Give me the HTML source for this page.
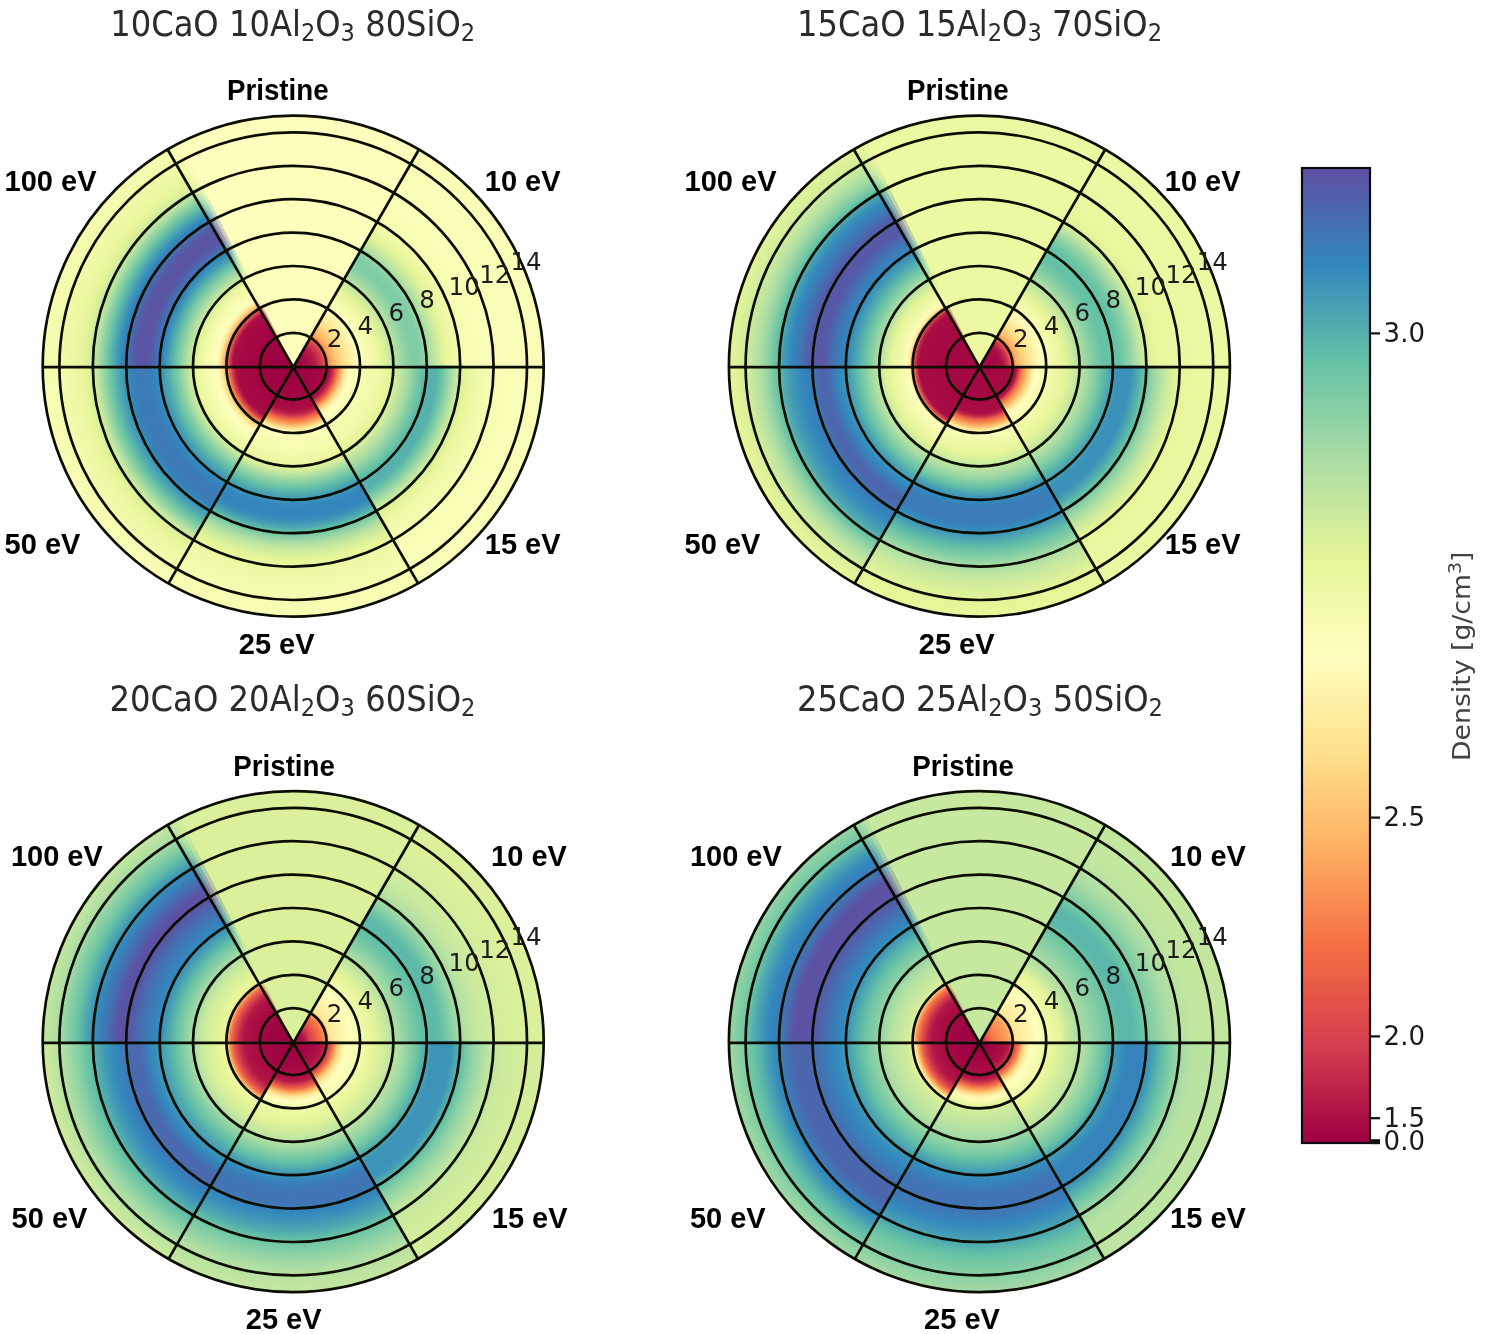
<!DOCTYPE html>
<html><head><meta charset="utf-8"><title>Density polar maps</title>
<style>
html,body{margin:0;padding:0;background:#fff;}
svg{display:block}
text{font-family:"DejaVu Sans","Liberation Sans",sans-serif;}
.tt{font-size:35px;fill:#2b2b2b;}
.rl{font-size:24.5px;fill:#1c1c1c;text-anchor:middle;}
.sl{font-family:"Liberation Sans","DejaVu Sans",sans-serif;font-weight:bold;font-size:29px;fill:#000;}
.ct{font-size:26px;fill:#1a1a1a;}
.cl{font-size:25.6px;fill:#424242;}
</style></head><body>
<svg width="1492" height="1334" viewBox="0 0 1492 1334">
<rect width="1492" height="1334" fill="#fff"/>
<defs>
<radialGradient id="g0p" gradientUnits="userSpaceOnUse" cx="293.2" cy="366.2" r="250.50"><stop offset="0.0000" stop-color="#fefebd"/><stop offset="1.0000" stop-color="#fefebd"/></radialGradient>
<radialGradient id="g0e10" gradientUnits="userSpaceOnUse" cx="293.2" cy="366.2" r="250.50"><stop offset="0.0000" stop-color="#9e0142"/><stop offset="0.0133" stop-color="#9f0242"/><stop offset="0.0267" stop-color="#a10443"/><stop offset="0.0400" stop-color="#a40743"/><stop offset="0.0533" stop-color="#a70b44"/><stop offset="0.0667" stop-color="#ac1045"/><stop offset="0.0800" stop-color="#b21747"/><stop offset="0.0933" stop-color="#bc2349"/><stop offset="0.1067" stop-color="#cc344d"/><stop offset="0.1200" stop-color="#db474d"/><stop offset="0.1333" stop-color="#f46c43"/><stop offset="0.1467" stop-color="#fba15b"/><stop offset="0.1600" stop-color="#fdb769"/><stop offset="0.1733" stop-color="#fdc575"/><stop offset="0.1867" stop-color="#fed380"/><stop offset="0.2000" stop-color="#fedf8a"/><stop offset="0.2133" stop-color="#fee695"/><stop offset="0.2267" stop-color="#feeda1"/><stop offset="0.2400" stop-color="#fff3ac"/><stop offset="0.2533" stop-color="#fffab6"/><stop offset="0.2667" stop-color="#ffffbf"/><stop offset="0.2800" stop-color="#fbfeb9"/><stop offset="0.2933" stop-color="#f8fcb4"/><stop offset="0.3067" stop-color="#f5fbaf"/><stop offset="0.3200" stop-color="#f1f9aa"/><stop offset="0.3333" stop-color="#edf8a3"/><stop offset="0.3467" stop-color="#e8f69c"/><stop offset="0.3600" stop-color="#e0f399"/><stop offset="0.3733" stop-color="#d5ee9c"/><stop offset="0.3867" stop-color="#c9e99e"/><stop offset="0.4000" stop-color="#bde4a0"/><stop offset="0.4133" stop-color="#b0dfa3"/><stop offset="0.4267" stop-color="#a2daa4"/><stop offset="0.4400" stop-color="#96d5a4"/><stop offset="0.4533" stop-color="#8cd1a4"/><stop offset="0.4667" stop-color="#82cda5"/><stop offset="0.4800" stop-color="#7ecba5"/><stop offset="0.4933" stop-color="#7fcca5"/><stop offset="0.5067" stop-color="#82cda5"/><stop offset="0.5200" stop-color="#8cd1a4"/><stop offset="0.5333" stop-color="#9dd8a4"/><stop offset="0.5467" stop-color="#aedea3"/><stop offset="0.5600" stop-color="#bde4a0"/><stop offset="0.5733" stop-color="#cae99e"/><stop offset="0.5867" stop-color="#d5ee9b"/><stop offset="0.6000" stop-color="#e0f399"/><stop offset="0.6133" stop-color="#e8f69b"/><stop offset="0.6267" stop-color="#ecf7a1"/><stop offset="0.6400" stop-color="#eff8a6"/><stop offset="0.6533" stop-color="#f1faaa"/><stop offset="0.6667" stop-color="#f4faad"/><stop offset="0.6800" stop-color="#f6fbb0"/><stop offset="0.6933" stop-color="#f7fcb3"/><stop offset="0.7067" stop-color="#f8fcb4"/><stop offset="0.7200" stop-color="#f8fcb5"/><stop offset="0.7333" stop-color="#f9fdb5"/><stop offset="0.7467" stop-color="#f9fdb6"/><stop offset="0.7600" stop-color="#fafdb7"/><stop offset="1.0000" stop-color="#fafdb7"/></radialGradient>
<radialGradient id="g0e15" gradientUnits="userSpaceOnUse" cx="293.2" cy="366.2" r="250.50"><stop offset="0.0000" stop-color="#9e0142"/><stop offset="0.0267" stop-color="#9e0142"/><stop offset="0.0400" stop-color="#9f0242"/><stop offset="0.0533" stop-color="#9f0242"/><stop offset="0.0667" stop-color="#a00342"/><stop offset="0.0800" stop-color="#a10443"/><stop offset="0.0933" stop-color="#a20543"/><stop offset="0.1067" stop-color="#a30743"/><stop offset="0.1200" stop-color="#a50844"/><stop offset="0.1333" stop-color="#a70b44"/><stop offset="0.1467" stop-color="#a90d45"/><stop offset="0.1600" stop-color="#c9314c"/><stop offset="0.1733" stop-color="#ee6445"/><stop offset="0.1867" stop-color="#fba15b"/><stop offset="0.2000" stop-color="#fed683"/><stop offset="0.2133" stop-color="#fff1a8"/><stop offset="0.2267" stop-color="#ffffbf"/><stop offset="0.2400" stop-color="#fcfeba"/><stop offset="0.2533" stop-color="#f9fdb6"/><stop offset="0.2667" stop-color="#f7fcb2"/><stop offset="0.2800" stop-color="#f5fbb0"/><stop offset="0.2933" stop-color="#f4fbae"/><stop offset="0.3067" stop-color="#f3faad"/><stop offset="0.3200" stop-color="#f2faab"/><stop offset="0.3333" stop-color="#f1f9a9"/><stop offset="0.3467" stop-color="#eff8a6"/><stop offset="0.3600" stop-color="#ecf7a2"/><stop offset="0.3733" stop-color="#e9f69c"/><stop offset="0.3867" stop-color="#e4f498"/><stop offset="0.4000" stop-color="#daf09a"/><stop offset="0.4133" stop-color="#d0ec9d"/><stop offset="0.4267" stop-color="#c4e79f"/><stop offset="0.4400" stop-color="#b8e2a1"/><stop offset="0.4533" stop-color="#abdda4"/><stop offset="0.4667" stop-color="#9cd7a4"/><stop offset="0.4800" stop-color="#8cd1a4"/><stop offset="0.4933" stop-color="#7bcaa5"/><stop offset="0.5067" stop-color="#6dc5a5"/><stop offset="0.5200" stop-color="#60bca8"/><stop offset="0.5333" stop-color="#58b2ac"/><stop offset="0.5467" stop-color="#56b1ac"/><stop offset="0.5600" stop-color="#56b1ac"/><stop offset="0.5733" stop-color="#58b2ab"/><stop offset="0.5867" stop-color="#63bea7"/><stop offset="0.6000" stop-color="#74c7a5"/><stop offset="0.6133" stop-color="#89d0a4"/><stop offset="0.6267" stop-color="#a0d9a4"/><stop offset="0.6400" stop-color="#b4e1a2"/><stop offset="0.6533" stop-color="#c5e89f"/><stop offset="0.6667" stop-color="#d4ee9c"/><stop offset="0.6800" stop-color="#dff299"/><stop offset="0.6933" stop-color="#e7f69a"/><stop offset="0.7067" stop-color="#ebf7a0"/><stop offset="0.7200" stop-color="#eef8a4"/><stop offset="0.7333" stop-color="#f0f9a8"/><stop offset="0.7467" stop-color="#f2faaa"/><stop offset="0.7600" stop-color="#f3faad"/><stop offset="0.7733" stop-color="#f5fbaf"/><stop offset="0.7867" stop-color="#f6fbb1"/><stop offset="0.8000" stop-color="#f7fcb2"/><stop offset="0.8133" stop-color="#f8fcb4"/><stop offset="0.8267" stop-color="#f8fcb5"/><stop offset="0.8400" stop-color="#f9fcb5"/><stop offset="0.8533" stop-color="#f9fdb6"/><stop offset="0.8933" stop-color="#f9fdb6"/><stop offset="0.9067" stop-color="#fafdb7"/><stop offset="1.0000" stop-color="#fafdb7"/></radialGradient>
<radialGradient id="g0e25" gradientUnits="userSpaceOnUse" cx="293.2" cy="366.2" r="250.50"><stop offset="0.0000" stop-color="#9e0142"/><stop offset="0.0400" stop-color="#9e0142"/><stop offset="0.0533" stop-color="#9f0242"/><stop offset="0.0667" stop-color="#9f0242"/><stop offset="0.0800" stop-color="#a00342"/><stop offset="0.0933" stop-color="#a00443"/><stop offset="0.1067" stop-color="#a10543"/><stop offset="0.1200" stop-color="#a20643"/><stop offset="0.1333" stop-color="#a40743"/><stop offset="0.1467" stop-color="#a50944"/><stop offset="0.1600" stop-color="#a70b44"/><stop offset="0.1733" stop-color="#a90d45"/><stop offset="0.1867" stop-color="#b71d48"/><stop offset="0.2000" stop-color="#d53e4f"/><stop offset="0.2133" stop-color="#f46d43"/><stop offset="0.2267" stop-color="#fa9757"/><stop offset="0.2400" stop-color="#fec776"/><stop offset="0.2533" stop-color="#feeda1"/><stop offset="0.2667" stop-color="#ffffbf"/><stop offset="0.2800" stop-color="#fbfdb9"/><stop offset="0.2933" stop-color="#f8fcb5"/><stop offset="0.3067" stop-color="#f7fcb2"/><stop offset="0.3200" stop-color="#f5fbb0"/><stop offset="0.3333" stop-color="#f4fbae"/><stop offset="0.3467" stop-color="#f3faac"/><stop offset="0.3600" stop-color="#f1f9a9"/><stop offset="0.3733" stop-color="#eff9a6"/><stop offset="0.3867" stop-color="#ecf7a1"/><stop offset="0.4000" stop-color="#e6f599"/><stop offset="0.4133" stop-color="#d8ef9b"/><stop offset="0.4267" stop-color="#c4e79f"/><stop offset="0.4400" stop-color="#afdfa3"/><stop offset="0.4533" stop-color="#99d6a4"/><stop offset="0.4667" stop-color="#85cea5"/><stop offset="0.4800" stop-color="#71c6a5"/><stop offset="0.4933" stop-color="#61bca7"/><stop offset="0.5067" stop-color="#55afad"/><stop offset="0.5200" stop-color="#49a2b2"/><stop offset="0.5333" stop-color="#3f97b7"/><stop offset="0.5467" stop-color="#378ebb"/><stop offset="0.5600" stop-color="#3387bc"/><stop offset="0.5733" stop-color="#3485bc"/><stop offset="0.5867" stop-color="#3485bc"/><stop offset="0.6000" stop-color="#3386bc"/><stop offset="0.6133" stop-color="#368dbb"/><stop offset="0.6267" stop-color="#3f97b7"/><stop offset="0.6400" stop-color="#4aa3b2"/><stop offset="0.6533" stop-color="#5ab5ab"/><stop offset="0.6667" stop-color="#6dc5a5"/><stop offset="0.6800" stop-color="#84cea5"/><stop offset="0.6933" stop-color="#9ad6a4"/><stop offset="0.7067" stop-color="#addea4"/><stop offset="0.7200" stop-color="#bce4a1"/><stop offset="0.7333" stop-color="#c9e99e"/><stop offset="0.7467" stop-color="#d4ee9c"/><stop offset="0.7600" stop-color="#ddf29a"/><stop offset="0.7733" stop-color="#e5f598"/><stop offset="0.7867" stop-color="#e9f69c"/><stop offset="0.8000" stop-color="#ebf7a0"/><stop offset="0.8133" stop-color="#edf8a3"/><stop offset="0.8267" stop-color="#eff8a6"/><stop offset="0.8400" stop-color="#f0f9a8"/><stop offset="0.8533" stop-color="#f1faaa"/><stop offset="0.8667" stop-color="#f2faac"/><stop offset="0.8800" stop-color="#f3faad"/><stop offset="0.8933" stop-color="#f4fbae"/><stop offset="0.9067" stop-color="#f5fbaf"/><stop offset="0.9200" stop-color="#f5fbb0"/><stop offset="0.9333" stop-color="#f6fbb1"/><stop offset="0.9467" stop-color="#f6fcb1"/><stop offset="0.9600" stop-color="#f7fcb2"/><stop offset="0.9733" stop-color="#f7fcb2"/><stop offset="0.9867" stop-color="#f7fcb3"/><stop offset="1.0000" stop-color="#f7fcb3"/></radialGradient>
<radialGradient id="g0e50" gradientUnits="userSpaceOnUse" cx="293.2" cy="366.2" r="250.50"><stop offset="0.0000" stop-color="#9e0142"/><stop offset="0.0533" stop-color="#9e0142"/><stop offset="0.0667" stop-color="#9f0242"/><stop offset="0.0933" stop-color="#9f0242"/><stop offset="0.1067" stop-color="#a00342"/><stop offset="0.1200" stop-color="#a00343"/><stop offset="0.1333" stop-color="#a10443"/><stop offset="0.1467" stop-color="#a20543"/><stop offset="0.1600" stop-color="#a30643"/><stop offset="0.1733" stop-color="#a40743"/><stop offset="0.1867" stop-color="#a50844"/><stop offset="0.2000" stop-color="#a60a44"/><stop offset="0.2133" stop-color="#a70b44"/><stop offset="0.2267" stop-color="#a90d45"/><stop offset="0.2400" stop-color="#c9314c"/><stop offset="0.2533" stop-color="#f36b44"/><stop offset="0.2667" stop-color="#fdaf62"/><stop offset="0.2800" stop-color="#fee08b"/><stop offset="0.2933" stop-color="#fff3ab"/><stop offset="0.3067" stop-color="#ffffbf"/><stop offset="0.3200" stop-color="#fafdb7"/><stop offset="0.3333" stop-color="#f7fcb2"/><stop offset="0.3467" stop-color="#f4fbae"/><stop offset="0.3600" stop-color="#f1faaa"/><stop offset="0.3733" stop-color="#edf8a4"/><stop offset="0.3867" stop-color="#e7f69a"/><stop offset="0.4000" stop-color="#d7ef9b"/><stop offset="0.4133" stop-color="#c5e89f"/><stop offset="0.4267" stop-color="#b3e0a2"/><stop offset="0.4400" stop-color="#9ed8a4"/><stop offset="0.4533" stop-color="#88cfa4"/><stop offset="0.4667" stop-color="#75c8a5"/><stop offset="0.4800" stop-color="#63bfa6"/><stop offset="0.4933" stop-color="#56b1ac"/><stop offset="0.5067" stop-color="#4ca5b1"/><stop offset="0.5200" stop-color="#429ab6"/><stop offset="0.5333" stop-color="#3a91b9"/><stop offset="0.5467" stop-color="#3288bd"/><stop offset="0.5600" stop-color="#3881ba"/><stop offset="0.5733" stop-color="#3b7db8"/><stop offset="0.5867" stop-color="#3c7bb7"/><stop offset="0.6000" stop-color="#3d7ab6"/><stop offset="0.6133" stop-color="#3d7ab6"/><stop offset="0.6267" stop-color="#3c7cb7"/><stop offset="0.6400" stop-color="#397fb9"/><stop offset="0.6533" stop-color="#3387bc"/><stop offset="0.6667" stop-color="#3a91b9"/><stop offset="0.6800" stop-color="#429ab5"/><stop offset="0.6933" stop-color="#4ca5b1"/><stop offset="0.7067" stop-color="#56b1ac"/><stop offset="0.7200" stop-color="#63bfa6"/><stop offset="0.7333" stop-color="#75c8a5"/><stop offset="0.7467" stop-color="#89d0a4"/><stop offset="0.7600" stop-color="#9fd8a4"/><stop offset="0.7733" stop-color="#b6e1a2"/><stop offset="0.7867" stop-color="#c8e99e"/><stop offset="0.8000" stop-color="#d4ee9c"/><stop offset="0.8133" stop-color="#ddf29a"/><stop offset="0.8267" stop-color="#e6f598"/><stop offset="0.8400" stop-color="#e9f69d"/><stop offset="0.8533" stop-color="#ebf7a1"/><stop offset="0.8667" stop-color="#eef8a4"/><stop offset="0.8800" stop-color="#eff9a6"/><stop offset="0.8933" stop-color="#f1f9a9"/><stop offset="0.9067" stop-color="#f2faab"/><stop offset="0.9200" stop-color="#f3faad"/><stop offset="0.9333" stop-color="#f4fbae"/><stop offset="0.9467" stop-color="#f5fbb0"/><stop offset="0.9600" stop-color="#f6fbb1"/><stop offset="0.9733" stop-color="#f7fcb2"/><stop offset="0.9867" stop-color="#f7fcb3"/><stop offset="1.0000" stop-color="#f7fcb3"/></radialGradient>
<radialGradient id="g0e100" gradientUnits="userSpaceOnUse" cx="293.2" cy="366.2" r="250.50"><stop offset="0.0000" stop-color="#9e0142"/><stop offset="0.0533" stop-color="#9e0142"/><stop offset="0.0667" stop-color="#9e0242"/><stop offset="0.0800" stop-color="#9f0242"/><stop offset="0.0933" stop-color="#9f0242"/><stop offset="0.1067" stop-color="#9f0342"/><stop offset="0.1200" stop-color="#a00342"/><stop offset="0.1333" stop-color="#a00443"/><stop offset="0.1467" stop-color="#a10443"/><stop offset="0.1600" stop-color="#a20543"/><stop offset="0.1733" stop-color="#a30643"/><stop offset="0.1867" stop-color="#a40743"/><stop offset="0.2000" stop-color="#a50944"/><stop offset="0.2133" stop-color="#a60a44"/><stop offset="0.2267" stop-color="#a70c44"/><stop offset="0.2400" stop-color="#a90d45"/><stop offset="0.2533" stop-color="#d33c4f"/><stop offset="0.2667" stop-color="#f8884f"/><stop offset="0.2800" stop-color="#fdc675"/><stop offset="0.2933" stop-color="#feeda1"/><stop offset="0.3067" stop-color="#ffffbf"/><stop offset="0.3200" stop-color="#fafdb7"/><stop offset="0.3333" stop-color="#f7fcb2"/><stop offset="0.3467" stop-color="#f4fbae"/><stop offset="0.3600" stop-color="#f0f9a8"/><stop offset="0.3733" stop-color="#eaf79f"/><stop offset="0.3867" stop-color="#dff299"/><stop offset="0.4000" stop-color="#ceeb9d"/><stop offset="0.4133" stop-color="#bde4a0"/><stop offset="0.4267" stop-color="#acdda4"/><stop offset="0.4400" stop-color="#97d5a4"/><stop offset="0.4533" stop-color="#82cda5"/><stop offset="0.4667" stop-color="#6cc4a5"/><stop offset="0.4800" stop-color="#5bb5aa"/><stop offset="0.4933" stop-color="#4ca5b1"/><stop offset="0.5067" stop-color="#3f96b7"/><stop offset="0.5200" stop-color="#3389bd"/><stop offset="0.5333" stop-color="#3b7db8"/><stop offset="0.5467" stop-color="#4570b2"/><stop offset="0.5600" stop-color="#4f63ab"/><stop offset="0.5733" stop-color="#5659a7"/><stop offset="0.5867" stop-color="#5a55a5"/><stop offset="0.6133" stop-color="#5a55a5"/><stop offset="0.6267" stop-color="#5956a5"/><stop offset="0.6400" stop-color="#525ea9"/><stop offset="0.6533" stop-color="#496aaf"/><stop offset="0.6667" stop-color="#3f77b5"/><stop offset="0.6800" stop-color="#3683ba"/><stop offset="0.6933" stop-color="#3990ba"/><stop offset="0.7067" stop-color="#459eb4"/><stop offset="0.7200" stop-color="#53adae"/><stop offset="0.7333" stop-color="#62bea7"/><stop offset="0.7467" stop-color="#77c9a5"/><stop offset="0.7600" stop-color="#8dd1a4"/><stop offset="0.7733" stop-color="#a5dba4"/><stop offset="0.7867" stop-color="#b9e3a1"/><stop offset="0.8000" stop-color="#c8e99e"/><stop offset="0.8133" stop-color="#d4ee9c"/><stop offset="0.8267" stop-color="#def29a"/><stop offset="0.8400" stop-color="#e6f598"/><stop offset="0.8533" stop-color="#e9f69d"/><stop offset="0.8667" stop-color="#ebf7a0"/><stop offset="0.8800" stop-color="#edf8a2"/><stop offset="0.8933" stop-color="#eef8a5"/><stop offset="0.9067" stop-color="#f0f9a7"/><stop offset="0.9200" stop-color="#f1f9a9"/><stop offset="0.9333" stop-color="#f2faab"/><stop offset="0.9467" stop-color="#f3faac"/><stop offset="0.9600" stop-color="#f4fbae"/><stop offset="0.9733" stop-color="#f4fbaf"/><stop offset="0.9867" stop-color="#f5fbaf"/><stop offset="1.0000" stop-color="#f5fbaf"/></radialGradient>
<radialGradient id="g1p" gradientUnits="userSpaceOnUse" cx="979.4" cy="366.2" r="250.50"><stop offset="0.0000" stop-color="#ecf8a2"/><stop offset="1.0000" stop-color="#ecf8a2"/></radialGradient>
<radialGradient id="g1e10" gradientUnits="userSpaceOnUse" cx="979.4" cy="366.2" r="250.50"><stop offset="0.0000" stop-color="#a40743"/><stop offset="0.0133" stop-color="#a40743"/><stop offset="0.0267" stop-color="#a40843"/><stop offset="0.0400" stop-color="#a50844"/><stop offset="0.0533" stop-color="#a50944"/><stop offset="0.0667" stop-color="#a70b44"/><stop offset="0.0800" stop-color="#a80c44"/><stop offset="0.0933" stop-color="#ad1145"/><stop offset="0.1067" stop-color="#c1274a"/><stop offset="0.1200" stop-color="#da454d"/><stop offset="0.1333" stop-color="#f57647"/><stop offset="0.1467" stop-color="#fdae61"/><stop offset="0.1600" stop-color="#fdc171"/><stop offset="0.1733" stop-color="#fecf7d"/><stop offset="0.1867" stop-color="#fedd88"/><stop offset="0.2000" stop-color="#fee594"/><stop offset="0.2133" stop-color="#feec9f"/><stop offset="0.2267" stop-color="#fff3ab"/><stop offset="0.2400" stop-color="#fff9b6"/><stop offset="0.2533" stop-color="#ffffbe"/><stop offset="0.2667" stop-color="#fafdb7"/><stop offset="0.2800" stop-color="#f6fbb1"/><stop offset="0.2933" stop-color="#f2faab"/><stop offset="0.3067" stop-color="#eff9a6"/><stop offset="0.3200" stop-color="#ebf7a0"/><stop offset="0.3333" stop-color="#e7f59a"/><stop offset="0.3467" stop-color="#dff299"/><stop offset="0.3600" stop-color="#d4ee9c"/><stop offset="0.3733" stop-color="#c9e99e"/><stop offset="0.3867" stop-color="#bce4a0"/><stop offset="0.4000" stop-color="#b1dfa3"/><stop offset="0.4133" stop-color="#a5dba4"/><stop offset="0.4267" stop-color="#99d6a4"/><stop offset="0.4400" stop-color="#8ed1a4"/><stop offset="0.4533" stop-color="#83cda5"/><stop offset="0.4667" stop-color="#79c9a5"/><stop offset="0.4800" stop-color="#6fc5a5"/><stop offset="0.4933" stop-color="#67c2a5"/><stop offset="0.5067" stop-color="#66c2a5"/><stop offset="0.5467" stop-color="#66c2a5"/><stop offset="0.5600" stop-color="#6ac4a5"/><stop offset="0.5733" stop-color="#74c8a5"/><stop offset="0.5867" stop-color="#82cda5"/><stop offset="0.6000" stop-color="#8fd2a4"/><stop offset="0.6133" stop-color="#9fd8a4"/><stop offset="0.6267" stop-color="#b0dfa3"/><stop offset="0.6400" stop-color="#bee5a0"/><stop offset="0.6533" stop-color="#cceb9d"/><stop offset="0.6667" stop-color="#d7ef9b"/><stop offset="0.6800" stop-color="#def29a"/><stop offset="0.6933" stop-color="#e4f498"/><stop offset="0.7067" stop-color="#e7f69a"/><stop offset="0.7200" stop-color="#e9f69c"/><stop offset="0.7333" stop-color="#eaf69e"/><stop offset="0.7467" stop-color="#eaf79f"/><stop offset="0.7600" stop-color="#ebf7a0"/><stop offset="0.7733" stop-color="#ebf7a0"/><stop offset="0.7867" stop-color="#ecf7a1"/><stop offset="0.8000" stop-color="#ecf7a1"/><stop offset="0.8133" stop-color="#ecf7a2"/><stop offset="0.8267" stop-color="#ecf7a2"/><stop offset="0.8400" stop-color="#ecf8a2"/><stop offset="1.0000" stop-color="#ecf8a2"/></radialGradient>
<radialGradient id="g1e15" gradientUnits="userSpaceOnUse" cx="979.4" cy="366.2" r="250.50"><stop offset="0.0000" stop-color="#a40743"/><stop offset="0.0400" stop-color="#a40743"/><stop offset="0.0533" stop-color="#a40843"/><stop offset="0.0667" stop-color="#a40843"/><stop offset="0.0800" stop-color="#a50844"/><stop offset="0.0933" stop-color="#a50944"/><stop offset="0.1067" stop-color="#a60a44"/><stop offset="0.1200" stop-color="#a70b44"/><stop offset="0.1333" stop-color="#a80c44"/><stop offset="0.1467" stop-color="#a90d45"/><stop offset="0.1600" stop-color="#e04e4b"/><stop offset="0.1733" stop-color="#f7854e"/><stop offset="0.1867" stop-color="#fdae61"/><stop offset="0.2000" stop-color="#fed783"/><stop offset="0.2133" stop-color="#fff0a6"/><stop offset="0.2267" stop-color="#ffffbf"/><stop offset="0.2400" stop-color="#fafdb8"/><stop offset="0.2533" stop-color="#f7fcb2"/><stop offset="0.2667" stop-color="#f4fbae"/><stop offset="0.2800" stop-color="#f2faab"/><stop offset="0.2933" stop-color="#f0f9a7"/><stop offset="0.3067" stop-color="#eef8a4"/><stop offset="0.3200" stop-color="#ebf7a0"/><stop offset="0.3333" stop-color="#e8f69b"/><stop offset="0.3467" stop-color="#e3f499"/><stop offset="0.3600" stop-color="#daf09a"/><stop offset="0.3733" stop-color="#d1ec9c"/><stop offset="0.3867" stop-color="#c7e89e"/><stop offset="0.4000" stop-color="#bde4a0"/><stop offset="0.4133" stop-color="#b3e0a2"/><stop offset="0.4267" stop-color="#a8dca4"/><stop offset="0.4400" stop-color="#9cd7a4"/><stop offset="0.4533" stop-color="#8fd2a4"/><stop offset="0.4667" stop-color="#81cda5"/><stop offset="0.4800" stop-color="#70c6a5"/><stop offset="0.4933" stop-color="#61bca7"/><stop offset="0.5067" stop-color="#57b1ac"/><stop offset="0.5200" stop-color="#4ea8b0"/><stop offset="0.5333" stop-color="#479fb3"/><stop offset="0.5467" stop-color="#3e96b7"/><stop offset="0.5600" stop-color="#3a91b9"/><stop offset="0.5867" stop-color="#3a91b9"/><stop offset="0.6000" stop-color="#3b92b9"/><stop offset="0.6133" stop-color="#429ab6"/><stop offset="0.6267" stop-color="#4ca5b1"/><stop offset="0.6400" stop-color="#57b1ac"/><stop offset="0.6533" stop-color="#63bfa6"/><stop offset="0.6667" stop-color="#74c7a5"/><stop offset="0.6800" stop-color="#85cea5"/><stop offset="0.6933" stop-color="#95d5a4"/><stop offset="0.7067" stop-color="#a5dba4"/><stop offset="0.7200" stop-color="#b2e0a2"/><stop offset="0.7333" stop-color="#bee5a0"/><stop offset="0.7467" stop-color="#c9e99e"/><stop offset="0.7600" stop-color="#d2ed9c"/><stop offset="0.7733" stop-color="#daf09a"/><stop offset="0.7867" stop-color="#e1f399"/><stop offset="0.8000" stop-color="#e6f598"/><stop offset="0.8133" stop-color="#e7f69a"/><stop offset="0.8267" stop-color="#e9f69c"/><stop offset="0.8400" stop-color="#eaf69e"/><stop offset="0.8533" stop-color="#eaf79f"/><stop offset="0.8667" stop-color="#ebf7a0"/><stop offset="0.8933" stop-color="#ebf7a0"/><stop offset="0.9067" stop-color="#ecf7a1"/><stop offset="0.9467" stop-color="#ecf7a1"/><stop offset="0.9600" stop-color="#ecf7a2"/><stop offset="0.9867" stop-color="#ecf7a2"/><stop offset="1.0000" stop-color="#ecf8a2"/></radialGradient>
<radialGradient id="g1e25" gradientUnits="userSpaceOnUse" cx="979.4" cy="366.2" r="250.50"><stop offset="0.0000" stop-color="#a40743"/><stop offset="0.0533" stop-color="#a40743"/><stop offset="0.0667" stop-color="#a40843"/><stop offset="0.0800" stop-color="#a40843"/><stop offset="0.0933" stop-color="#a40844"/><stop offset="0.1067" stop-color="#a50844"/><stop offset="0.1200" stop-color="#a50944"/><stop offset="0.1333" stop-color="#a60a44"/><stop offset="0.1467" stop-color="#a60a44"/><stop offset="0.1600" stop-color="#a70b44"/><stop offset="0.1733" stop-color="#a80c44"/><stop offset="0.1867" stop-color="#a90d45"/><stop offset="0.2000" stop-color="#c1284a"/><stop offset="0.2133" stop-color="#ed6346"/><stop offset="0.2267" stop-color="#f88d52"/><stop offset="0.2400" stop-color="#fdb96a"/><stop offset="0.2533" stop-color="#fee695"/><stop offset="0.2667" stop-color="#ffffbf"/><stop offset="0.2800" stop-color="#f8fcb5"/><stop offset="0.2933" stop-color="#f4faad"/><stop offset="0.3067" stop-color="#f0f9a8"/><stop offset="0.3200" stop-color="#eef8a4"/><stop offset="0.3333" stop-color="#ebf7a0"/><stop offset="0.3467" stop-color="#e8f69b"/><stop offset="0.3600" stop-color="#e1f399"/><stop offset="0.3733" stop-color="#d7ef9b"/><stop offset="0.3867" stop-color="#cdeb9d"/><stop offset="0.4000" stop-color="#c3e79f"/><stop offset="0.4133" stop-color="#b8e2a1"/><stop offset="0.4267" stop-color="#acdda4"/><stop offset="0.4400" stop-color="#9ed8a4"/><stop offset="0.4533" stop-color="#8ed2a4"/><stop offset="0.4667" stop-color="#7ccba5"/><stop offset="0.4800" stop-color="#6ac4a5"/><stop offset="0.4933" stop-color="#5cb6aa"/><stop offset="0.5067" stop-color="#4ea7b0"/><stop offset="0.5200" stop-color="#4199b6"/><stop offset="0.5333" stop-color="#378ebb"/><stop offset="0.5467" stop-color="#3486bc"/><stop offset="0.5600" stop-color="#397fb9"/><stop offset="0.5733" stop-color="#3b7db8"/><stop offset="0.6133" stop-color="#3b7db8"/><stop offset="0.6267" stop-color="#3a7db8"/><stop offset="0.6400" stop-color="#3683ba"/><stop offset="0.6533" stop-color="#358bbc"/><stop offset="0.6667" stop-color="#3c94b8"/><stop offset="0.6800" stop-color="#449db5"/><stop offset="0.6933" stop-color="#4ea7b0"/><stop offset="0.7067" stop-color="#57b1ac"/><stop offset="0.7200" stop-color="#60bba8"/><stop offset="0.7333" stop-color="#6ac3a5"/><stop offset="0.7467" stop-color="#75c8a5"/><stop offset="0.7600" stop-color="#82cda5"/><stop offset="0.7733" stop-color="#90d2a4"/><stop offset="0.7867" stop-color="#9ed8a4"/><stop offset="0.8000" stop-color="#abdda4"/><stop offset="0.8133" stop-color="#b4e1a2"/><stop offset="0.8267" stop-color="#bce4a1"/><stop offset="0.8400" stop-color="#c3e79f"/><stop offset="0.8533" stop-color="#c9e99e"/><stop offset="0.8667" stop-color="#ceeb9d"/><stop offset="0.8800" stop-color="#d3ed9c"/><stop offset="0.8933" stop-color="#d8ef9b"/><stop offset="0.9067" stop-color="#dcf19a"/><stop offset="0.9200" stop-color="#e0f399"/><stop offset="0.9333" stop-color="#e4f499"/><stop offset="0.9467" stop-color="#e6f598"/><stop offset="0.9600" stop-color="#e7f599"/><stop offset="0.9733" stop-color="#e8f69a"/><stop offset="0.9867" stop-color="#e8f69b"/><stop offset="1.0000" stop-color="#e8f69c"/></radialGradient>
<radialGradient id="g1e50" gradientUnits="userSpaceOnUse" cx="979.4" cy="366.2" r="250.50"><stop offset="0.0000" stop-color="#a40743"/><stop offset="0.0800" stop-color="#a40743"/><stop offset="0.0933" stop-color="#a40843"/><stop offset="0.1067" stop-color="#a40843"/><stop offset="0.1200" stop-color="#a40844"/><stop offset="0.1333" stop-color="#a50844"/><stop offset="0.1467" stop-color="#a50944"/><stop offset="0.1600" stop-color="#a50944"/><stop offset="0.1733" stop-color="#a60a44"/><stop offset="0.1867" stop-color="#a60a44"/><stop offset="0.2000" stop-color="#a70b44"/><stop offset="0.2133" stop-color="#a70c44"/><stop offset="0.2267" stop-color="#a80c44"/><stop offset="0.2400" stop-color="#a90d45"/><stop offset="0.2533" stop-color="#db474d"/><stop offset="0.2667" stop-color="#fdb264"/><stop offset="0.2800" stop-color="#ffffbf"/><stop offset="0.2933" stop-color="#f8fcb4"/><stop offset="0.3067" stop-color="#f4fbae"/><stop offset="0.3200" stop-color="#f1f9a9"/><stop offset="0.3333" stop-color="#eff8a5"/><stop offset="0.3467" stop-color="#ebf7a0"/><stop offset="0.3600" stop-color="#e6f599"/><stop offset="0.3733" stop-color="#dbf19a"/><stop offset="0.3867" stop-color="#cfec9d"/><stop offset="0.4000" stop-color="#c3e79f"/><stop offset="0.4133" stop-color="#b6e1a2"/><stop offset="0.4267" stop-color="#a8dca4"/><stop offset="0.4400" stop-color="#98d6a4"/><stop offset="0.4533" stop-color="#88cfa4"/><stop offset="0.4667" stop-color="#78c9a5"/><stop offset="0.4800" stop-color="#68c3a5"/><stop offset="0.4933" stop-color="#5cb7aa"/><stop offset="0.5067" stop-color="#51abaf"/><stop offset="0.5200" stop-color="#47a0b3"/><stop offset="0.5333" stop-color="#3f96b7"/><stop offset="0.5467" stop-color="#398fba"/><stop offset="0.5600" stop-color="#3389bd"/><stop offset="0.5733" stop-color="#3881b9"/><stop offset="0.5867" stop-color="#4076b4"/><stop offset="0.6000" stop-color="#476cb0"/><stop offset="0.6133" stop-color="#4c66ad"/><stop offset="0.6267" stop-color="#4c66ad"/><stop offset="0.6400" stop-color="#4b67ae"/><stop offset="0.6533" stop-color="#4470b2"/><stop offset="0.6667" stop-color="#3f77b5"/><stop offset="0.6800" stop-color="#3b7db8"/><stop offset="0.6933" stop-color="#3682ba"/><stop offset="0.7067" stop-color="#3387bd"/><stop offset="0.7200" stop-color="#358cbc"/><stop offset="0.7333" stop-color="#3a91b9"/><stop offset="0.7467" stop-color="#3f97b7"/><stop offset="0.7600" stop-color="#459db4"/><stop offset="0.7733" stop-color="#4ca5b1"/><stop offset="0.7867" stop-color="#55afad"/><stop offset="0.8000" stop-color="#60bca8"/><stop offset="0.8133" stop-color="#6ec5a5"/><stop offset="0.8267" stop-color="#7ecba5"/><stop offset="0.8400" stop-color="#8ed2a4"/><stop offset="0.8533" stop-color="#9dd8a4"/><stop offset="0.8667" stop-color="#aadda4"/><stop offset="0.8800" stop-color="#b5e1a2"/><stop offset="0.8933" stop-color="#bfe5a0"/><stop offset="0.9067" stop-color="#c6e89e"/><stop offset="0.9200" stop-color="#ceeb9d"/><stop offset="0.9333" stop-color="#d4ee9c"/><stop offset="0.9467" stop-color="#daf09a"/><stop offset="0.9600" stop-color="#def29a"/><stop offset="0.9733" stop-color="#e2f399"/><stop offset="0.9867" stop-color="#e4f498"/><stop offset="1.0000" stop-color="#e6f598"/></radialGradient>
<radialGradient id="g1e100" gradientUnits="userSpaceOnUse" cx="979.4" cy="366.2" r="250.50"><stop offset="0.0000" stop-color="#a40743"/><stop offset="0.0800" stop-color="#a40743"/><stop offset="0.0933" stop-color="#a40843"/><stop offset="0.1200" stop-color="#a40843"/><stop offset="0.1333" stop-color="#a50844"/><stop offset="0.1467" stop-color="#a50944"/><stop offset="0.1600" stop-color="#a50944"/><stop offset="0.1733" stop-color="#a60944"/><stop offset="0.1867" stop-color="#a60a44"/><stop offset="0.2000" stop-color="#a70b44"/><stop offset="0.2133" stop-color="#a70b44"/><stop offset="0.2267" stop-color="#a80c44"/><stop offset="0.2400" stop-color="#a90d45"/><stop offset="0.2533" stop-color="#c0274a"/><stop offset="0.2667" stop-color="#f88e52"/><stop offset="0.2800" stop-color="#feeea2"/><stop offset="0.2933" stop-color="#fafdb8"/><stop offset="0.3067" stop-color="#f4faad"/><stop offset="0.3200" stop-color="#f0f9a7"/><stop offset="0.3333" stop-color="#ecf8a2"/><stop offset="0.3467" stop-color="#e9f69c"/><stop offset="0.3600" stop-color="#dff299"/><stop offset="0.3733" stop-color="#d0ec9c"/><stop offset="0.3867" stop-color="#c0e6a0"/><stop offset="0.4000" stop-color="#b1dfa3"/><stop offset="0.4133" stop-color="#a0d9a4"/><stop offset="0.4267" stop-color="#8ed2a4"/><stop offset="0.4400" stop-color="#7dcba5"/><stop offset="0.4533" stop-color="#6dc5a5"/><stop offset="0.4667" stop-color="#60bba8"/><stop offset="0.4800" stop-color="#55afad"/><stop offset="0.4933" stop-color="#4ba4b1"/><stop offset="0.5067" stop-color="#429ab6"/><stop offset="0.5200" stop-color="#3990ba"/><stop offset="0.5333" stop-color="#3288bd"/><stop offset="0.5467" stop-color="#3782ba"/><stop offset="0.5600" stop-color="#3b7db8"/><stop offset="0.5733" stop-color="#3f77b5"/><stop offset="0.5867" stop-color="#466fb1"/><stop offset="0.6000" stop-color="#4c66ad"/><stop offset="0.6133" stop-color="#535da9"/><stop offset="0.6267" stop-color="#5758a6"/><stop offset="0.6667" stop-color="#5758a6"/><stop offset="0.6800" stop-color="#535da9"/><stop offset="0.6933" stop-color="#4c66ad"/><stop offset="0.7067" stop-color="#466eb1"/><stop offset="0.7200" stop-color="#3f77b5"/><stop offset="0.7333" stop-color="#3a7eb8"/><stop offset="0.7467" stop-color="#3584bb"/><stop offset="0.7600" stop-color="#368cbb"/><stop offset="0.7733" stop-color="#3d95b8"/><stop offset="0.7867" stop-color="#479fb3"/><stop offset="0.8000" stop-color="#56b0ad"/><stop offset="0.8133" stop-color="#66c2a5"/><stop offset="0.8267" stop-color="#78c9a5"/><stop offset="0.8400" stop-color="#88cfa5"/><stop offset="0.8533" stop-color="#96d5a4"/><stop offset="0.8667" stop-color="#a4daa4"/><stop offset="0.8800" stop-color="#afdfa3"/><stop offset="0.8933" stop-color="#b9e3a1"/><stop offset="0.9067" stop-color="#c0e6a0"/><stop offset="0.9200" stop-color="#c8e99e"/><stop offset="0.9333" stop-color="#ceeb9d"/><stop offset="0.9467" stop-color="#d4ee9c"/><stop offset="0.9600" stop-color="#d8ef9b"/><stop offset="0.9733" stop-color="#dcf19a"/><stop offset="0.9867" stop-color="#def29a"/><stop offset="1.0000" stop-color="#e0f399"/></radialGradient>
<radialGradient id="g2p" gradientUnits="userSpaceOnUse" cx="293.2" cy="1041.6" r="250.50"><stop offset="0.0000" stop-color="#daf09a"/><stop offset="1.0000" stop-color="#daf09a"/></radialGradient>
<radialGradient id="g2e10" gradientUnits="userSpaceOnUse" cx="293.2" cy="1041.6" r="250.50"><stop offset="0.0000" stop-color="#9e0142"/><stop offset="0.0133" stop-color="#a00443"/><stop offset="0.0267" stop-color="#a60a44"/><stop offset="0.0400" stop-color="#ae1346"/><stop offset="0.0533" stop-color="#bf264a"/><stop offset="0.0667" stop-color="#d53e4f"/><stop offset="0.0800" stop-color="#e04f4b"/><stop offset="0.0933" stop-color="#eb5f47"/><stop offset="0.1067" stop-color="#f36c43"/><stop offset="0.1200" stop-color="#f7804c"/><stop offset="0.1333" stop-color="#fdb264"/><stop offset="0.1467" stop-color="#fee696"/><stop offset="0.1600" stop-color="#feeb9e"/><stop offset="0.1733" stop-color="#feeea2"/><stop offset="0.1867" stop-color="#fff1a8"/><stop offset="0.2000" stop-color="#fff5ae"/><stop offset="0.2133" stop-color="#fff9b4"/><stop offset="0.2267" stop-color="#fffdbb"/><stop offset="0.2400" stop-color="#fdfebc"/><stop offset="0.2533" stop-color="#f7fcb3"/><stop offset="0.2667" stop-color="#f2faac"/><stop offset="0.2800" stop-color="#eff9a6"/><stop offset="0.2933" stop-color="#ecf7a1"/><stop offset="0.3067" stop-color="#e9f69d"/><stop offset="0.3200" stop-color="#e6f598"/><stop offset="0.3333" stop-color="#def29a"/><stop offset="0.3467" stop-color="#d7ef9b"/><stop offset="0.3600" stop-color="#ceeb9d"/><stop offset="0.3733" stop-color="#c5e89f"/><stop offset="0.3867" stop-color="#bbe3a1"/><stop offset="0.4000" stop-color="#b1dfa3"/><stop offset="0.4133" stop-color="#a7dca4"/><stop offset="0.4267" stop-color="#9dd8a4"/><stop offset="0.4400" stop-color="#93d4a4"/><stop offset="0.4533" stop-color="#8ad0a4"/><stop offset="0.4667" stop-color="#80cca5"/><stop offset="0.4800" stop-color="#76c8a5"/><stop offset="0.4933" stop-color="#6dc5a5"/><stop offset="0.5067" stop-color="#66c2a5"/><stop offset="0.5200" stop-color="#62bda7"/><stop offset="0.5333" stop-color="#5fbaa8"/><stop offset="0.5467" stop-color="#5eb9a9"/><stop offset="0.5733" stop-color="#5eb9a9"/><stop offset="0.5867" stop-color="#62bda7"/><stop offset="0.6000" stop-color="#6bc4a5"/><stop offset="0.6133" stop-color="#77c9a5"/><stop offset="0.6267" stop-color="#84cea5"/><stop offset="0.6400" stop-color="#91d3a4"/><stop offset="0.6533" stop-color="#9dd8a4"/><stop offset="0.6667" stop-color="#a7dca4"/><stop offset="0.6800" stop-color="#b0dfa3"/><stop offset="0.6933" stop-color="#b7e2a2"/><stop offset="0.7067" stop-color="#bde4a0"/><stop offset="0.7200" stop-color="#c1e6a0"/><stop offset="0.7333" stop-color="#c5e79f"/><stop offset="0.7467" stop-color="#c8e99e"/><stop offset="0.7600" stop-color="#cbea9e"/><stop offset="0.7733" stop-color="#cdeb9d"/><stop offset="0.7867" stop-color="#d0ec9d"/><stop offset="0.8000" stop-color="#d1ed9c"/><stop offset="0.8133" stop-color="#d3ed9c"/><stop offset="0.8267" stop-color="#d4ee9c"/><stop offset="0.8400" stop-color="#d6ee9b"/><stop offset="0.8533" stop-color="#d7ef9b"/><stop offset="0.8667" stop-color="#d8ef9b"/><stop offset="0.8800" stop-color="#d9f09b"/><stop offset="0.8933" stop-color="#daf09a"/><stop offset="1.0000" stop-color="#daf09a"/></radialGradient>
<radialGradient id="g2e15" gradientUnits="userSpaceOnUse" cx="293.2" cy="1041.6" r="250.50"><stop offset="0.0000" stop-color="#9e0142"/><stop offset="0.0133" stop-color="#9e0142"/><stop offset="0.0267" stop-color="#9f0242"/><stop offset="0.0400" stop-color="#a00342"/><stop offset="0.0533" stop-color="#a20543"/><stop offset="0.0667" stop-color="#a40743"/><stop offset="0.0800" stop-color="#a60a44"/><stop offset="0.0933" stop-color="#aa0e45"/><stop offset="0.1067" stop-color="#ad1246"/><stop offset="0.1200" stop-color="#b61b48"/><stop offset="0.1333" stop-color="#c9304c"/><stop offset="0.1467" stop-color="#df4d4b"/><stop offset="0.1600" stop-color="#f67d4a"/><stop offset="0.1733" stop-color="#fdb96a"/><stop offset="0.1867" stop-color="#fee08b"/><stop offset="0.2000" stop-color="#fff3ab"/><stop offset="0.2133" stop-color="#ffffbf"/><stop offset="0.2267" stop-color="#fcfeba"/><stop offset="0.2400" stop-color="#f9fdb6"/><stop offset="0.2533" stop-color="#f7fcb2"/><stop offset="0.2667" stop-color="#f3faad"/><stop offset="0.2800" stop-color="#f0f9a8"/><stop offset="0.2933" stop-color="#ecf8a2"/><stop offset="0.3067" stop-color="#e9f69d"/><stop offset="0.3200" stop-color="#e6f598"/><stop offset="0.3333" stop-color="#e0f399"/><stop offset="0.3467" stop-color="#daf09a"/><stop offset="0.3600" stop-color="#d4ee9c"/><stop offset="0.3733" stop-color="#cdeb9d"/><stop offset="0.3867" stop-color="#c5e89f"/><stop offset="0.4000" stop-color="#bde4a0"/><stop offset="0.4133" stop-color="#b4e1a2"/><stop offset="0.4267" stop-color="#abdda4"/><stop offset="0.4400" stop-color="#a1d9a4"/><stop offset="0.4533" stop-color="#95d5a4"/><stop offset="0.4667" stop-color="#89d0a4"/><stop offset="0.4800" stop-color="#7bcaa5"/><stop offset="0.4933" stop-color="#6dc5a5"/><stop offset="0.5067" stop-color="#61bca7"/><stop offset="0.5200" stop-color="#56b0ac"/><stop offset="0.5333" stop-color="#4ca5b1"/><stop offset="0.5467" stop-color="#429ab6"/><stop offset="0.5600" stop-color="#3c94b8"/><stop offset="0.6133" stop-color="#3c94b8"/><stop offset="0.6267" stop-color="#3d95b8"/><stop offset="0.6400" stop-color="#459db4"/><stop offset="0.6533" stop-color="#50aaaf"/><stop offset="0.6667" stop-color="#5cb6aa"/><stop offset="0.6800" stop-color="#69c3a5"/><stop offset="0.6933" stop-color="#7acaa5"/><stop offset="0.7067" stop-color="#88cfa5"/><stop offset="0.7200" stop-color="#93d4a4"/><stop offset="0.7333" stop-color="#9dd8a4"/><stop offset="0.7467" stop-color="#a7dba4"/><stop offset="0.7600" stop-color="#afdfa3"/><stop offset="0.7733" stop-color="#b7e2a2"/><stop offset="0.7867" stop-color="#bee5a0"/><stop offset="0.8000" stop-color="#c3e79f"/><stop offset="0.8133" stop-color="#c6e89e"/><stop offset="0.8267" stop-color="#c9e99e"/><stop offset="0.8400" stop-color="#ccea9d"/><stop offset="0.8533" stop-color="#ceeb9d"/><stop offset="0.8667" stop-color="#cfec9d"/><stop offset="0.8800" stop-color="#d0ec9c"/><stop offset="0.8933" stop-color="#d2ed9c"/><stop offset="0.9067" stop-color="#d3ed9c"/><stop offset="0.9200" stop-color="#d4ed9c"/><stop offset="0.9333" stop-color="#d4ee9c"/><stop offset="1.0000" stop-color="#d4ee9c"/></radialGradient>
<radialGradient id="g2e25" gradientUnits="userSpaceOnUse" cx="293.2" cy="1041.6" r="250.50"><stop offset="0.0000" stop-color="#9e0142"/><stop offset="0.0267" stop-color="#9e0142"/><stop offset="0.0400" stop-color="#9f0242"/><stop offset="0.0533" stop-color="#9f0342"/><stop offset="0.0667" stop-color="#a00443"/><stop offset="0.0800" stop-color="#a20543"/><stop offset="0.0933" stop-color="#a30743"/><stop offset="0.1067" stop-color="#a50944"/><stop offset="0.1200" stop-color="#a70b44"/><stop offset="0.1333" stop-color="#aa0e45"/><stop offset="0.1467" stop-color="#ad1145"/><stop offset="0.1600" stop-color="#b61b48"/><stop offset="0.1733" stop-color="#d53e4f"/><stop offset="0.1867" stop-color="#ed6346"/><stop offset="0.2000" stop-color="#fb9d59"/><stop offset="0.2133" stop-color="#fed582"/><stop offset="0.2267" stop-color="#fff0a5"/><stop offset="0.2400" stop-color="#ffffbf"/><stop offset="0.2533" stop-color="#f6fbb1"/><stop offset="0.2667" stop-color="#f0f9a8"/><stop offset="0.2800" stop-color="#edf8a3"/><stop offset="0.2933" stop-color="#eaf79f"/><stop offset="0.3067" stop-color="#e8f69c"/><stop offset="0.3200" stop-color="#e6f598"/><stop offset="0.3333" stop-color="#dff299"/><stop offset="0.3467" stop-color="#d8ef9b"/><stop offset="0.3600" stop-color="#d1ec9c"/><stop offset="0.3733" stop-color="#c9e99e"/><stop offset="0.3867" stop-color="#c0e6a0"/><stop offset="0.4000" stop-color="#b7e2a2"/><stop offset="0.4133" stop-color="#acdda4"/><stop offset="0.4267" stop-color="#9ed8a4"/><stop offset="0.4400" stop-color="#90d2a4"/><stop offset="0.4533" stop-color="#82cda5"/><stop offset="0.4667" stop-color="#74c7a5"/><stop offset="0.4800" stop-color="#66c2a5"/><stop offset="0.4933" stop-color="#5cb6aa"/><stop offset="0.5067" stop-color="#51aaaf"/><stop offset="0.5200" stop-color="#469eb4"/><stop offset="0.5333" stop-color="#3c94b8"/><stop offset="0.5467" stop-color="#358bbc"/><stop offset="0.5600" stop-color="#3683bb"/><stop offset="0.5733" stop-color="#3b7cb8"/><stop offset="0.5867" stop-color="#3e78b5"/><stop offset="0.6000" stop-color="#4076b5"/><stop offset="0.6133" stop-color="#4175b4"/><stop offset="0.6267" stop-color="#4174b4"/><stop offset="0.6400" stop-color="#4174b4"/><stop offset="0.6533" stop-color="#3f78b5"/><stop offset="0.6667" stop-color="#397fb9"/><stop offset="0.6800" stop-color="#3485bc"/><stop offset="0.6933" stop-color="#348bbc"/><stop offset="0.7067" stop-color="#3a90b9"/><stop offset="0.7200" stop-color="#3f96b7"/><stop offset="0.7333" stop-color="#459db4"/><stop offset="0.7467" stop-color="#4ba3b2"/><stop offset="0.7600" stop-color="#51abaf"/><stop offset="0.7733" stop-color="#59b4ab"/><stop offset="0.7867" stop-color="#63bea6"/><stop offset="0.8000" stop-color="#6dc5a5"/><stop offset="0.8133" stop-color="#76c8a5"/><stop offset="0.8267" stop-color="#7fcca5"/><stop offset="0.8400" stop-color="#87cfa5"/><stop offset="0.8533" stop-color="#8fd2a4"/><stop offset="0.8667" stop-color="#96d5a4"/><stop offset="0.8800" stop-color="#9ed8a4"/><stop offset="0.8933" stop-color="#a6dba4"/><stop offset="0.9067" stop-color="#addea4"/><stop offset="0.9200" stop-color="#b3e0a2"/><stop offset="0.9333" stop-color="#b7e2a2"/><stop offset="0.9467" stop-color="#bae3a1"/><stop offset="0.9600" stop-color="#bde4a0"/><stop offset="0.9733" stop-color="#c0e5a0"/><stop offset="0.9867" stop-color="#c2e69f"/><stop offset="1.0000" stop-color="#c3e79f"/></radialGradient>
<radialGradient id="g2e50" gradientUnits="userSpaceOnUse" cx="293.2" cy="1041.6" r="250.50"><stop offset="0.0000" stop-color="#9e0142"/><stop offset="0.0267" stop-color="#9e0142"/><stop offset="0.0400" stop-color="#9f0242"/><stop offset="0.0533" stop-color="#9f0242"/><stop offset="0.0667" stop-color="#a00342"/><stop offset="0.0800" stop-color="#a10443"/><stop offset="0.0933" stop-color="#a20543"/><stop offset="0.1067" stop-color="#a30643"/><stop offset="0.1200" stop-color="#a40843"/><stop offset="0.1333" stop-color="#a60a44"/><stop offset="0.1467" stop-color="#a80c44"/><stop offset="0.1600" stop-color="#aa0e45"/><stop offset="0.1733" stop-color="#ac1045"/><stop offset="0.1867" stop-color="#ae1346"/><stop offset="0.2000" stop-color="#b61c48"/><stop offset="0.2133" stop-color="#c62d4b"/><stop offset="0.2267" stop-color="#d9444d"/><stop offset="0.2400" stop-color="#ed6346"/><stop offset="0.2533" stop-color="#fb9e5a"/><stop offset="0.2667" stop-color="#feefa4"/><stop offset="0.2800" stop-color="#edf8a4"/><stop offset="0.2933" stop-color="#e8f69b"/><stop offset="0.3067" stop-color="#e3f499"/><stop offset="0.3200" stop-color="#dff299"/><stop offset="0.3333" stop-color="#dbf19a"/><stop offset="0.3467" stop-color="#d6ef9b"/><stop offset="0.3600" stop-color="#ceeb9d"/><stop offset="0.3733" stop-color="#c3e79f"/><stop offset="0.3867" stop-color="#b7e2a2"/><stop offset="0.4000" stop-color="#abdda4"/><stop offset="0.4133" stop-color="#9dd8a4"/><stop offset="0.4267" stop-color="#8fd2a4"/><stop offset="0.4400" stop-color="#81cda5"/><stop offset="0.4533" stop-color="#74c7a5"/><stop offset="0.4667" stop-color="#68c3a5"/><stop offset="0.4800" stop-color="#5ebaa8"/><stop offset="0.4933" stop-color="#56b1ac"/><stop offset="0.5067" stop-color="#4fa8b0"/><stop offset="0.5200" stop-color="#48a1b3"/><stop offset="0.5333" stop-color="#4299b6"/><stop offset="0.5467" stop-color="#3b93b9"/><stop offset="0.5600" stop-color="#358cbb"/><stop offset="0.5733" stop-color="#3584bb"/><stop offset="0.5867" stop-color="#3c7bb7"/><stop offset="0.6000" stop-color="#4372b3"/><stop offset="0.6133" stop-color="#496aaf"/><stop offset="0.6267" stop-color="#4a69ae"/><stop offset="0.6400" stop-color="#4a69ae"/><stop offset="0.6533" stop-color="#496aaf"/><stop offset="0.6667" stop-color="#4273b3"/><stop offset="0.6800" stop-color="#3d7ab6"/><stop offset="0.6933" stop-color="#3880b9"/><stop offset="0.7067" stop-color="#3485bc"/><stop offset="0.7200" stop-color="#348bbc"/><stop offset="0.7333" stop-color="#3990ba"/><stop offset="0.7467" stop-color="#3f97b7"/><stop offset="0.7600" stop-color="#459eb4"/><stop offset="0.7733" stop-color="#4da6b1"/><stop offset="0.7867" stop-color="#54aead"/><stop offset="0.8000" stop-color="#5cb6aa"/><stop offset="0.8133" stop-color="#63bfa6"/><stop offset="0.8267" stop-color="#6cc4a5"/><stop offset="0.8400" stop-color="#76c8a5"/><stop offset="0.8533" stop-color="#81cda5"/><stop offset="0.8667" stop-color="#8cd1a4"/><stop offset="0.8800" stop-color="#96d5a4"/><stop offset="0.8933" stop-color="#a0d9a4"/><stop offset="0.9067" stop-color="#a9dca4"/><stop offset="0.9200" stop-color="#b0dfa3"/><stop offset="0.9333" stop-color="#b7e2a2"/><stop offset="0.9467" stop-color="#bce4a0"/><stop offset="0.9600" stop-color="#c2e69f"/><stop offset="0.9733" stop-color="#c6e89e"/><stop offset="0.9867" stop-color="#cbea9e"/><stop offset="1.0000" stop-color="#ceeb9d"/></radialGradient>
<radialGradient id="g2e100" gradientUnits="userSpaceOnUse" cx="293.2" cy="1041.6" r="250.50"><stop offset="0.0000" stop-color="#9e0142"/><stop offset="0.0267" stop-color="#9e0142"/><stop offset="0.0400" stop-color="#9f0242"/><stop offset="0.0533" stop-color="#9f0242"/><stop offset="0.0667" stop-color="#a00342"/><stop offset="0.0800" stop-color="#a00343"/><stop offset="0.0933" stop-color="#a10443"/><stop offset="0.1067" stop-color="#a20643"/><stop offset="0.1200" stop-color="#a40743"/><stop offset="0.1333" stop-color="#a50944"/><stop offset="0.1467" stop-color="#a70b44"/><stop offset="0.1600" stop-color="#a90d45"/><stop offset="0.1733" stop-color="#ab0f45"/><stop offset="0.1867" stop-color="#ad1246"/><stop offset="0.2000" stop-color="#b21747"/><stop offset="0.2133" stop-color="#c1274a"/><stop offset="0.2267" stop-color="#d53f4f"/><stop offset="0.2400" stop-color="#e85a48"/><stop offset="0.2533" stop-color="#f8874f"/><stop offset="0.2667" stop-color="#fed985"/><stop offset="0.2800" stop-color="#e8f69c"/><stop offset="0.2933" stop-color="#e6f598"/><stop offset="0.3067" stop-color="#e0f399"/><stop offset="0.3200" stop-color="#dcf19a"/><stop offset="0.3333" stop-color="#d7ef9b"/><stop offset="0.3467" stop-color="#d2ed9c"/><stop offset="0.3600" stop-color="#cbea9e"/><stop offset="0.3733" stop-color="#c1e6a0"/><stop offset="0.3867" stop-color="#b6e2a2"/><stop offset="0.4000" stop-color="#abdda4"/><stop offset="0.4133" stop-color="#9ed8a4"/><stop offset="0.4267" stop-color="#90d2a4"/><stop offset="0.4400" stop-color="#82cda5"/><stop offset="0.4533" stop-color="#74c7a5"/><stop offset="0.4667" stop-color="#66c2a5"/><stop offset="0.4800" stop-color="#5bb6aa"/><stop offset="0.4933" stop-color="#51abaf"/><stop offset="0.5067" stop-color="#48a0b3"/><stop offset="0.5200" stop-color="#3f96b7"/><stop offset="0.5333" stop-color="#378ebb"/><stop offset="0.5467" stop-color="#3287bd"/><stop offset="0.5600" stop-color="#3782ba"/><stop offset="0.5733" stop-color="#3b7db8"/><stop offset="0.5867" stop-color="#3e78b6"/><stop offset="0.6000" stop-color="#4274b3"/><stop offset="0.6133" stop-color="#466eb1"/><stop offset="0.6267" stop-color="#4b67ae"/><stop offset="0.6400" stop-color="#5160aa"/><stop offset="0.6533" stop-color="#5857a6"/><stop offset="0.6667" stop-color="#5c52a3"/><stop offset="0.6933" stop-color="#5c52a3"/><stop offset="0.7067" stop-color="#5857a6"/><stop offset="0.7200" stop-color="#5061ab"/><stop offset="0.7333" stop-color="#496aaf"/><stop offset="0.7467" stop-color="#4372b2"/><stop offset="0.7600" stop-color="#3d7ab6"/><stop offset="0.7733" stop-color="#3782ba"/><stop offset="0.7867" stop-color="#338abc"/><stop offset="0.8000" stop-color="#3b92b9"/><stop offset="0.8133" stop-color="#439bb5"/><stop offset="0.8267" stop-color="#4ca5b1"/><stop offset="0.8400" stop-color="#56b0ac"/><stop offset="0.8533" stop-color="#61bca7"/><stop offset="0.8667" stop-color="#6cc4a5"/><stop offset="0.8800" stop-color="#78c9a5"/><stop offset="0.8933" stop-color="#83cda5"/><stop offset="0.9067" stop-color="#8ed2a4"/><stop offset="0.9200" stop-color="#9bd7a4"/><stop offset="0.9333" stop-color="#a6dba4"/><stop offset="0.9467" stop-color="#afdea3"/><stop offset="0.9600" stop-color="#b5e1a2"/><stop offset="0.9733" stop-color="#bae3a1"/><stop offset="0.9867" stop-color="#bfe5a0"/><stop offset="1.0000" stop-color="#c3e79f"/></radialGradient>
<radialGradient id="g3p" gradientUnits="userSpaceOnUse" cx="979.4" cy="1041.6" r="250.50"><stop offset="0.0000" stop-color="#c6e89f"/><stop offset="1.0000" stop-color="#c6e89f"/></radialGradient>
<radialGradient id="g3e10" gradientUnits="userSpaceOnUse" cx="979.4" cy="1041.6" r="250.50"><stop offset="0.0000" stop-color="#9e0142"/><stop offset="0.0133" stop-color="#ba2048"/><stop offset="0.0267" stop-color="#de4b4c"/><stop offset="0.0400" stop-color="#ee6345"/><stop offset="0.0533" stop-color="#f57346"/><stop offset="0.0667" stop-color="#f7804c"/><stop offset="0.0800" stop-color="#f88a50"/><stop offset="0.0933" stop-color="#f99455"/><stop offset="0.1067" stop-color="#fb9e59"/><stop offset="0.1200" stop-color="#fcaa5f"/><stop offset="0.1333" stop-color="#fed07d"/><stop offset="0.1467" stop-color="#fee99a"/><stop offset="0.1600" stop-color="#feec9f"/><stop offset="0.1733" stop-color="#feeea3"/><stop offset="0.1867" stop-color="#fff1a8"/><stop offset="0.2000" stop-color="#fff5ae"/><stop offset="0.2133" stop-color="#fff8b4"/><stop offset="0.2267" stop-color="#fffdbb"/><stop offset="0.2400" stop-color="#fdfebc"/><stop offset="0.2533" stop-color="#f7fcb3"/><stop offset="0.2667" stop-color="#f2faac"/><stop offset="0.2800" stop-color="#eff9a6"/><stop offset="0.2933" stop-color="#ecf7a2"/><stop offset="0.3067" stop-color="#e9f69d"/><stop offset="0.3200" stop-color="#e6f598"/><stop offset="0.3333" stop-color="#dbf09a"/><stop offset="0.3467" stop-color="#ceeb9d"/><stop offset="0.3600" stop-color="#c3e79f"/><stop offset="0.3733" stop-color="#bae3a1"/><stop offset="0.3867" stop-color="#b2e0a3"/><stop offset="0.4000" stop-color="#abdda4"/><stop offset="0.4133" stop-color="#a3daa4"/><stop offset="0.4267" stop-color="#9dd7a4"/><stop offset="0.4400" stop-color="#96d5a4"/><stop offset="0.4533" stop-color="#8fd2a4"/><stop offset="0.4667" stop-color="#88d0a4"/><stop offset="0.4800" stop-color="#82cda5"/><stop offset="0.4933" stop-color="#7bcaa5"/><stop offset="0.5067" stop-color="#74c7a5"/><stop offset="0.5200" stop-color="#6dc5a5"/><stop offset="0.5333" stop-color="#66c2a5"/><stop offset="0.5467" stop-color="#61bca7"/><stop offset="0.5600" stop-color="#5cb7a9"/><stop offset="0.5733" stop-color="#5cb6aa"/><stop offset="0.6000" stop-color="#5cb6aa"/><stop offset="0.6133" stop-color="#5cb7a9"/><stop offset="0.6267" stop-color="#60bca8"/><stop offset="0.6400" stop-color="#66c2a5"/><stop offset="0.6533" stop-color="#6ec5a5"/><stop offset="0.6667" stop-color="#77c9a5"/><stop offset="0.6800" stop-color="#80cca5"/><stop offset="0.6933" stop-color="#88cfa5"/><stop offset="0.7067" stop-color="#8fd2a4"/><stop offset="0.7200" stop-color="#97d5a4"/><stop offset="0.7333" stop-color="#9fd8a4"/><stop offset="0.7467" stop-color="#a6dba4"/><stop offset="0.7600" stop-color="#acdda4"/><stop offset="0.7733" stop-color="#b0dfa3"/><stop offset="0.7867" stop-color="#b4e1a2"/><stop offset="0.8000" stop-color="#b7e2a2"/><stop offset="0.8133" stop-color="#bae3a1"/><stop offset="0.8267" stop-color="#bde4a0"/><stop offset="0.8400" stop-color="#bfe5a0"/><stop offset="0.8533" stop-color="#c1e69f"/><stop offset="0.8667" stop-color="#c2e79f"/><stop offset="0.8800" stop-color="#c3e79f"/><stop offset="1.0000" stop-color="#c3e79f"/></radialGradient>
<radialGradient id="g3e15" gradientUnits="userSpaceOnUse" cx="979.4" cy="1041.6" r="250.50"><stop offset="0.0000" stop-color="#9e0142"/><stop offset="0.0133" stop-color="#9e0142"/><stop offset="0.0267" stop-color="#9f0242"/><stop offset="0.0400" stop-color="#a00342"/><stop offset="0.0533" stop-color="#a10543"/><stop offset="0.0667" stop-color="#a30743"/><stop offset="0.0800" stop-color="#a60a44"/><stop offset="0.0933" stop-color="#a90e45"/><stop offset="0.1067" stop-color="#ad1246"/><stop offset="0.1200" stop-color="#ba2049"/><stop offset="0.1333" stop-color="#d53e4f"/><stop offset="0.1467" stop-color="#e85b48"/><stop offset="0.1600" stop-color="#f88c51"/><stop offset="0.1733" stop-color="#fec978"/><stop offset="0.1867" stop-color="#feea9c"/><stop offset="0.2000" stop-color="#fffab7"/><stop offset="0.2133" stop-color="#fcfebb"/><stop offset="0.2267" stop-color="#f8fcb4"/><stop offset="0.2400" stop-color="#f5fbaf"/><stop offset="0.2533" stop-color="#f2faaa"/><stop offset="0.2667" stop-color="#eef8a5"/><stop offset="0.2800" stop-color="#ebf79f"/><stop offset="0.2933" stop-color="#e7f59a"/><stop offset="0.3067" stop-color="#e1f399"/><stop offset="0.3200" stop-color="#daf09a"/><stop offset="0.3333" stop-color="#d4ee9c"/><stop offset="0.3467" stop-color="#ceeb9d"/><stop offset="0.3600" stop-color="#c8e99e"/><stop offset="0.3733" stop-color="#c3e79f"/><stop offset="0.3867" stop-color="#bde4a0"/><stop offset="0.4000" stop-color="#b7e2a2"/><stop offset="0.4133" stop-color="#afdfa3"/><stop offset="0.4267" stop-color="#a5dba4"/><stop offset="0.4400" stop-color="#9ad6a4"/><stop offset="0.4533" stop-color="#8ed2a4"/><stop offset="0.4667" stop-color="#83cda5"/><stop offset="0.4800" stop-color="#78c9a5"/><stop offset="0.4933" stop-color="#6dc5a5"/><stop offset="0.5067" stop-color="#60bba8"/><stop offset="0.5200" stop-color="#52acae"/><stop offset="0.5333" stop-color="#479fb3"/><stop offset="0.5467" stop-color="#4098b6"/><stop offset="0.5600" stop-color="#3b92b9"/><stop offset="0.5733" stop-color="#368cbb"/><stop offset="0.5867" stop-color="#3486bc"/><stop offset="0.6000" stop-color="#3682ba"/><stop offset="0.6400" stop-color="#3682ba"/><stop offset="0.6533" stop-color="#3386bc"/><stop offset="0.6667" stop-color="#378ebb"/><stop offset="0.6800" stop-color="#3f96b7"/><stop offset="0.6933" stop-color="#48a1b3"/><stop offset="0.7067" stop-color="#51abaf"/><stop offset="0.7200" stop-color="#5ab5ab"/><stop offset="0.7333" stop-color="#63bfa6"/><stop offset="0.7467" stop-color="#6ec5a5"/><stop offset="0.7600" stop-color="#7acaa5"/><stop offset="0.7733" stop-color="#87cfa5"/><stop offset="0.7867" stop-color="#93d4a4"/><stop offset="0.8000" stop-color="#9dd8a4"/><stop offset="0.8133" stop-color="#a5dba4"/><stop offset="0.8267" stop-color="#addea4"/><stop offset="0.8400" stop-color="#b2e0a3"/><stop offset="0.8533" stop-color="#b6e1a2"/><stop offset="0.8667" stop-color="#b8e2a1"/><stop offset="0.8800" stop-color="#b9e3a1"/><stop offset="0.8933" stop-color="#bae3a1"/><stop offset="0.9067" stop-color="#bbe4a1"/><stop offset="0.9200" stop-color="#bce4a1"/><stop offset="0.9333" stop-color="#bde4a0"/><stop offset="1.0000" stop-color="#bde4a0"/></radialGradient>
<radialGradient id="g3e25" gradientUnits="userSpaceOnUse" cx="979.4" cy="1041.6" r="250.50"><stop offset="0.0000" stop-color="#9e0142"/><stop offset="0.0267" stop-color="#9e0142"/><stop offset="0.0400" stop-color="#9f0242"/><stop offset="0.0533" stop-color="#a00342"/><stop offset="0.0667" stop-color="#a10443"/><stop offset="0.0800" stop-color="#a20543"/><stop offset="0.0933" stop-color="#a40743"/><stop offset="0.1067" stop-color="#a60a44"/><stop offset="0.1200" stop-color="#a80c44"/><stop offset="0.1333" stop-color="#ab1045"/><stop offset="0.1467" stop-color="#ae1346"/><stop offset="0.1600" stop-color="#c32b4b"/><stop offset="0.1733" stop-color="#e45449"/><stop offset="0.1867" stop-color="#f8874f"/><stop offset="0.2000" stop-color="#fdba6b"/><stop offset="0.2133" stop-color="#fee695"/><stop offset="0.2267" stop-color="#fffab7"/><stop offset="0.2400" stop-color="#f4fbae"/><stop offset="0.2533" stop-color="#e9f69c"/><stop offset="0.2667" stop-color="#daf09a"/><stop offset="0.2800" stop-color="#d1ec9c"/><stop offset="0.2933" stop-color="#cbea9d"/><stop offset="0.3067" stop-color="#c7e89e"/><stop offset="0.3200" stop-color="#c3e79f"/><stop offset="0.3333" stop-color="#bde4a0"/><stop offset="0.3467" stop-color="#b8e2a1"/><stop offset="0.3600" stop-color="#b2e0a3"/><stop offset="0.3733" stop-color="#acdea4"/><stop offset="0.3867" stop-color="#a5dba4"/><stop offset="0.4000" stop-color="#9dd8a4"/><stop offset="0.4133" stop-color="#94d4a4"/><stop offset="0.4267" stop-color="#8bd0a4"/><stop offset="0.4400" stop-color="#80cca5"/><stop offset="0.4533" stop-color="#75c8a5"/><stop offset="0.4667" stop-color="#69c3a5"/><stop offset="0.4800" stop-color="#5fbba8"/><stop offset="0.4933" stop-color="#56b1ac"/><stop offset="0.5067" stop-color="#4da6b0"/><stop offset="0.5200" stop-color="#449cb5"/><stop offset="0.5333" stop-color="#3c94b8"/><stop offset="0.5467" stop-color="#368cbb"/><stop offset="0.5600" stop-color="#3486bc"/><stop offset="0.5733" stop-color="#3881b9"/><stop offset="0.5867" stop-color="#3b7cb7"/><stop offset="0.6000" stop-color="#3e78b5"/><stop offset="0.6133" stop-color="#4175b4"/><stop offset="0.6267" stop-color="#4174b4"/><stop offset="0.6667" stop-color="#4174b4"/><stop offset="0.6800" stop-color="#3f77b5"/><stop offset="0.6933" stop-color="#3c7bb7"/><stop offset="0.7067" stop-color="#397fb9"/><stop offset="0.7200" stop-color="#3683bb"/><stop offset="0.7333" stop-color="#3288bd"/><stop offset="0.7467" stop-color="#378ebb"/><stop offset="0.7600" stop-color="#3c93b8"/><stop offset="0.7733" stop-color="#4199b6"/><stop offset="0.7867" stop-color="#469fb4"/><stop offset="0.8000" stop-color="#4ca5b1"/><stop offset="0.8133" stop-color="#52acae"/><stop offset="0.8267" stop-color="#59b4ab"/><stop offset="0.8400" stop-color="#60bba8"/><stop offset="0.8533" stop-color="#66c2a5"/><stop offset="0.8667" stop-color="#6dc5a5"/><stop offset="0.8800" stop-color="#73c7a5"/><stop offset="0.8933" stop-color="#78c9a5"/><stop offset="0.9067" stop-color="#7ecba5"/><stop offset="0.9200" stop-color="#83cda5"/><stop offset="0.9333" stop-color="#88d0a4"/><stop offset="0.9467" stop-color="#8ed2a4"/><stop offset="0.9600" stop-color="#94d4a4"/><stop offset="0.9733" stop-color="#99d6a4"/><stop offset="0.9867" stop-color="#9fd8a4"/><stop offset="1.0000" stop-color="#a4daa4"/></radialGradient>
<radialGradient id="g3e50" gradientUnits="userSpaceOnUse" cx="979.4" cy="1041.6" r="250.50"><stop offset="0.0000" stop-color="#9e0142"/><stop offset="0.0267" stop-color="#9e0142"/><stop offset="0.0400" stop-color="#9f0242"/><stop offset="0.0533" stop-color="#9f0242"/><stop offset="0.0667" stop-color="#a00342"/><stop offset="0.0800" stop-color="#a10443"/><stop offset="0.0933" stop-color="#a20543"/><stop offset="0.1067" stop-color="#a30743"/><stop offset="0.1200" stop-color="#a50844"/><stop offset="0.1333" stop-color="#a60a44"/><stop offset="0.1467" stop-color="#a80c44"/><stop offset="0.1600" stop-color="#ab0f45"/><stop offset="0.1733" stop-color="#ad1246"/><stop offset="0.1867" stop-color="#b21747"/><stop offset="0.2000" stop-color="#c0274a"/><stop offset="0.2133" stop-color="#d63f4f"/><stop offset="0.2267" stop-color="#eb5f47"/><stop offset="0.2400" stop-color="#fa9a58"/><stop offset="0.2533" stop-color="#fedd88"/><stop offset="0.2667" stop-color="#f7fcb3"/><stop offset="0.2800" stop-color="#daf09a"/><stop offset="0.2933" stop-color="#d0ec9c"/><stop offset="0.3067" stop-color="#caea9e"/><stop offset="0.3200" stop-color="#c6e89e"/><stop offset="0.3333" stop-color="#c3e79f"/><stop offset="0.3467" stop-color="#bee5a0"/><stop offset="0.3600" stop-color="#b7e2a1"/><stop offset="0.3733" stop-color="#b0dfa3"/><stop offset="0.3867" stop-color="#a7dba4"/><stop offset="0.4000" stop-color="#9dd8a4"/><stop offset="0.4133" stop-color="#93d4a4"/><stop offset="0.4267" stop-color="#89d0a4"/><stop offset="0.4400" stop-color="#7ecca5"/><stop offset="0.4533" stop-color="#74c7a5"/><stop offset="0.4667" stop-color="#69c3a5"/><stop offset="0.4800" stop-color="#60bca8"/><stop offset="0.4933" stop-color="#58b3ab"/><stop offset="0.5067" stop-color="#50aaaf"/><stop offset="0.5200" stop-color="#49a1b3"/><stop offset="0.5333" stop-color="#4299b6"/><stop offset="0.5467" stop-color="#3c93b8"/><stop offset="0.5600" stop-color="#378dbb"/><stop offset="0.5733" stop-color="#3389bd"/><stop offset="0.5867" stop-color="#3485bc"/><stop offset="0.6000" stop-color="#3781ba"/><stop offset="0.6133" stop-color="#3a7db8"/><stop offset="0.6267" stop-color="#3e78b6"/><stop offset="0.6400" stop-color="#4273b3"/><stop offset="0.6533" stop-color="#456fb1"/><stop offset="0.6667" stop-color="#496aaf"/><stop offset="0.6800" stop-color="#4c66ad"/><stop offset="0.7333" stop-color="#4c66ad"/><stop offset="0.7467" stop-color="#4b68ae"/><stop offset="0.7600" stop-color="#466eb1"/><stop offset="0.7733" stop-color="#4174b4"/><stop offset="0.7867" stop-color="#3c7bb7"/><stop offset="0.8000" stop-color="#3682ba"/><stop offset="0.8133" stop-color="#338abc"/><stop offset="0.8267" stop-color="#3a91b9"/><stop offset="0.8400" stop-color="#4299b6"/><stop offset="0.8533" stop-color="#4aa3b2"/><stop offset="0.8667" stop-color="#53adae"/><stop offset="0.8800" stop-color="#5cb6aa"/><stop offset="0.8933" stop-color="#63bea7"/><stop offset="0.9067" stop-color="#6ac4a5"/><stop offset="0.9200" stop-color="#72c7a5"/><stop offset="0.9333" stop-color="#7bcaa5"/><stop offset="0.9467" stop-color="#84cea5"/><stop offset="0.9600" stop-color="#8dd1a4"/><stop offset="0.9733" stop-color="#95d4a4"/><stop offset="0.9867" stop-color="#9ad6a4"/><stop offset="1.0000" stop-color="#9dd8a4"/></radialGradient>
<radialGradient id="g3e100" gradientUnits="userSpaceOnUse" cx="979.4" cy="1041.6" r="250.50"><stop offset="0.0000" stop-color="#9e0142"/><stop offset="0.0267" stop-color="#9e0142"/><stop offset="0.0400" stop-color="#9f0242"/><stop offset="0.0533" stop-color="#9f0242"/><stop offset="0.0667" stop-color="#a00342"/><stop offset="0.0800" stop-color="#a00443"/><stop offset="0.0933" stop-color="#a10543"/><stop offset="0.1067" stop-color="#a30643"/><stop offset="0.1200" stop-color="#a40843"/><stop offset="0.1333" stop-color="#a60944"/><stop offset="0.1467" stop-color="#a70b44"/><stop offset="0.1600" stop-color="#aa0e45"/><stop offset="0.1733" stop-color="#ac1045"/><stop offset="0.1867" stop-color="#ae1346"/><stop offset="0.2000" stop-color="#b81e48"/><stop offset="0.2133" stop-color="#ca324c"/><stop offset="0.2267" stop-color="#de4c4b"/><stop offset="0.2400" stop-color="#f26a44"/><stop offset="0.2533" stop-color="#fa9a58"/><stop offset="0.2667" stop-color="#fffab7"/><stop offset="0.2800" stop-color="#d4ee9c"/><stop offset="0.2933" stop-color="#ceeb9d"/><stop offset="0.3067" stop-color="#c8e99e"/><stop offset="0.3200" stop-color="#c3e79f"/><stop offset="0.3333" stop-color="#bee5a0"/><stop offset="0.3467" stop-color="#b8e2a1"/><stop offset="0.3600" stop-color="#b1e0a3"/><stop offset="0.3733" stop-color="#a8dca4"/><stop offset="0.3867" stop-color="#9dd8a4"/><stop offset="0.4000" stop-color="#93d4a4"/><stop offset="0.4133" stop-color="#89d0a4"/><stop offset="0.4267" stop-color="#80cca5"/><stop offset="0.4400" stop-color="#77c9a5"/><stop offset="0.4533" stop-color="#6dc5a5"/><stop offset="0.4667" stop-color="#63bfa6"/><stop offset="0.4800" stop-color="#5bb6aa"/><stop offset="0.4933" stop-color="#53adae"/><stop offset="0.5067" stop-color="#4ba3b2"/><stop offset="0.5200" stop-color="#4299b6"/><stop offset="0.5333" stop-color="#3a91b9"/><stop offset="0.5467" stop-color="#348abc"/><stop offset="0.5600" stop-color="#3485bc"/><stop offset="0.5733" stop-color="#397fb9"/><stop offset="0.5867" stop-color="#3d7ab6"/><stop offset="0.6000" stop-color="#4174b4"/><stop offset="0.6133" stop-color="#466eb1"/><stop offset="0.6267" stop-color="#4a68ae"/><stop offset="0.6400" stop-color="#4f63ab"/><stop offset="0.6533" stop-color="#535da9"/><stop offset="0.6667" stop-color="#5857a6"/><stop offset="0.6800" stop-color="#5b53a4"/><stop offset="0.6933" stop-color="#5c52a3"/><stop offset="0.7333" stop-color="#5c52a3"/><stop offset="0.7467" stop-color="#5857a6"/><stop offset="0.7600" stop-color="#5061ab"/><stop offset="0.7733" stop-color="#486cb0"/><stop offset="0.7867" stop-color="#4273b3"/><stop offset="0.8000" stop-color="#3d7ab6"/><stop offset="0.8133" stop-color="#397fb9"/><stop offset="0.8267" stop-color="#3683bb"/><stop offset="0.8400" stop-color="#3288bd"/><stop offset="0.8533" stop-color="#388eba"/><stop offset="0.8667" stop-color="#3e96b7"/><stop offset="0.8800" stop-color="#459eb4"/><stop offset="0.8933" stop-color="#4da7b0"/><stop offset="0.9067" stop-color="#56b1ac"/><stop offset="0.9200" stop-color="#61bda7"/><stop offset="0.9333" stop-color="#6dc5a5"/><stop offset="0.9467" stop-color="#77c8a5"/><stop offset="0.9600" stop-color="#7fcca5"/><stop offset="0.9733" stop-color="#86cfa5"/><stop offset="0.9867" stop-color="#8fd2a4"/><stop offset="1.0000" stop-color="#96d5a4"/></radialGradient>
<linearGradient id="cb" x1="0" y1="0" x2="0" y2="1"><stop offset="0.0" stop-color="#5e4fa2"/><stop offset="0.1" stop-color="#3288bd"/><stop offset="0.2" stop-color="#66c2a5"/><stop offset="0.3" stop-color="#abdda4"/><stop offset="0.4" stop-color="#e6f598"/><stop offset="0.5" stop-color="#ffffbf"/><stop offset="0.6" stop-color="#fee08b"/><stop offset="0.7" stop-color="#fdae61"/><stop offset="0.8" stop-color="#f46d43"/><stop offset="0.9" stop-color="#d53e4f"/><stop offset="1.0" stop-color="#9e0142"/></linearGradient>
</defs>
<g><path d="M293.20,366.20L419.58,149.92A250.50,250.50 0 0 0 166.82,149.92Z" fill="url(#g0p)"/>
<path d="M293.20,366.20L543.70,367.51A250.50,250.50 0 0 0 417.31,148.61Z" fill="url(#g0e10)"/>
<path d="M293.20,366.20L417.31,583.79A250.50,250.50 0 0 0 543.70,364.89Z" fill="url(#g0e15)"/>
<path d="M293.20,366.20L166.82,582.48A250.50,250.50 0 0 0 419.58,582.48Z" fill="url(#g0e25)"/>
<path d="M293.20,366.20L42.70,364.89A250.50,250.50 0 0 0 169.09,583.79Z" fill="url(#g0e50)"/>
<path d="M293.20,366.20L169.09,148.61A250.50,250.50 0 0 0 42.70,367.51Z" fill="url(#g0e100)"/>
<path d="M293.20,366.20L180.26,142.61A250.50,250.50 0 0 0 167.95,149.26Z" fill="url(#g0e100)" opacity="0.28"/>
<path d="M293.20,366.20L175.98,144.82A250.50,250.50 0 0 0 167.95,149.26Z" fill="url(#g0e100)" opacity="0.35"/>
<path d="M293.20,366.20L172.14,146.90A250.50,250.50 0 0 0 167.95,149.26Z" fill="url(#g0e100)" opacity="0.5"/>
<g fill="none" stroke="#0a0d00" stroke-width="2.7"><circle cx="293.2" cy="366.2" r="33.40"/><circle cx="293.2" cy="366.2" r="66.80"/><circle cx="293.2" cy="366.2" r="100.20"/><circle cx="293.2" cy="366.2" r="133.60"/><circle cx="293.2" cy="366.2" r="167.00"/><circle cx="293.2" cy="366.2" r="200.40"/><circle cx="293.2" cy="366.2" r="233.80"/><circle cx="293.2" cy="366.2" r="250.50"/><line x1="42.80" y1="367.20" x2="543.80" y2="367.20"/><line x1="168.05" y1="584.14" x2="418.55" y2="150.26"/><line x1="418.55" y1="584.14" x2="168.05" y2="150.26"/></g>
<text x="334.5" y="346.5" class="rl">2</text>
<text x="365.3" y="333.7" class="rl">4</text>
<text x="396.2" y="320.9" class="rl">6</text>
<text x="427.0" y="308.2" class="rl">8</text>
<text x="464.2" y="295.4" class="rl">10</text>
<text x="494.8" y="282.6" class="rl">12</text>
<text x="526.1" y="269.8" class="rl">14</text>
<text x="227.0" y="100.4" class="sl" textLength="101.6" lengthAdjust="spacingAndGlyphs">Pristine</text>
<text x="4.6" y="190.6" class="sl">100 eV</text>
<text x="484.8" y="190.6" class="sl">10 eV</text>
<text x="4.6" y="553.7" class="sl">50 eV</text>
<text x="484.8" y="553.7" class="sl">15 eV</text>
<text x="238.8" y="654.3" class="sl">25 eV</text>
<text x="110.2" y="36.0" class="tt" textLength="365" lengthAdjust="spacingAndGlyphs">10CaO 10Al<tspan dy="4.5" font-size="24.5">2</tspan><tspan dy="-4.5">O</tspan><tspan dy="4.5" font-size="24.5">3</tspan><tspan dy="-4.5"> 80SiO</tspan><tspan dy="4.5" font-size="24.5">2</tspan></text></g>
<g><path d="M979.40,366.20L1105.78,149.92A250.50,250.50 0 0 0 853.02,149.92Z" fill="url(#g1p)"/>
<path d="M979.40,366.20L1229.90,367.51A250.50,250.50 0 0 0 1103.51,148.61Z" fill="url(#g1e10)"/>
<path d="M979.40,366.20L1103.51,583.79A250.50,250.50 0 0 0 1229.90,364.89Z" fill="url(#g1e15)"/>
<path d="M979.40,366.20L853.02,582.48A250.50,250.50 0 0 0 1105.78,582.48Z" fill="url(#g1e25)"/>
<path d="M979.40,366.20L728.90,364.89A250.50,250.50 0 0 0 855.29,583.79Z" fill="url(#g1e50)"/>
<path d="M979.40,366.20L855.29,148.61A250.50,250.50 0 0 0 728.90,367.51Z" fill="url(#g1e100)"/>
<path d="M979.40,366.20L866.46,142.61A250.50,250.50 0 0 0 854.15,149.26Z" fill="url(#g1e100)" opacity="0.28"/>
<path d="M979.40,366.20L862.18,144.82A250.50,250.50 0 0 0 854.15,149.26Z" fill="url(#g1e100)" opacity="0.35"/>
<path d="M979.40,366.20L858.34,146.90A250.50,250.50 0 0 0 854.15,149.26Z" fill="url(#g1e100)" opacity="0.5"/>
<g fill="none" stroke="#0a0d00" stroke-width="2.7"><circle cx="979.4" cy="366.2" r="33.40"/><circle cx="979.4" cy="366.2" r="66.80"/><circle cx="979.4" cy="366.2" r="100.20"/><circle cx="979.4" cy="366.2" r="133.60"/><circle cx="979.4" cy="366.2" r="167.00"/><circle cx="979.4" cy="366.2" r="200.40"/><circle cx="979.4" cy="366.2" r="233.80"/><circle cx="979.4" cy="366.2" r="250.50"/><line x1="729.00" y1="367.20" x2="1230.00" y2="367.20"/><line x1="854.25" y1="584.14" x2="1104.75" y2="150.26"/><line x1="1104.75" y1="584.14" x2="854.25" y2="150.26"/></g>
<text x="1020.7" y="346.5" class="rl">2</text>
<text x="1051.5" y="333.7" class="rl">4</text>
<text x="1082.4" y="320.9" class="rl">6</text>
<text x="1113.2" y="308.2" class="rl">8</text>
<text x="1150.4" y="295.4" class="rl">10</text>
<text x="1181.0" y="282.6" class="rl">12</text>
<text x="1212.3" y="269.8" class="rl">14</text>
<text x="907.0" y="100.4" class="sl" textLength="101.6" lengthAdjust="spacingAndGlyphs">Pristine</text>
<text x="684.6" y="190.6" class="sl">100 eV</text>
<text x="1164.8" y="190.6" class="sl">10 eV</text>
<text x="684.6" y="553.7" class="sl">50 eV</text>
<text x="1164.8" y="553.7" class="sl">15 eV</text>
<text x="918.8" y="654.3" class="sl">25 eV</text>
<text x="797" y="36.0" class="tt" textLength="365" lengthAdjust="spacingAndGlyphs">15CaO 15Al<tspan dy="4.5" font-size="24.5">2</tspan><tspan dy="-4.5">O</tspan><tspan dy="4.5" font-size="24.5">3</tspan><tspan dy="-4.5"> 70SiO</tspan><tspan dy="4.5" font-size="24.5">2</tspan></text></g>
<g><path d="M293.20,1041.60L419.58,825.32A250.50,250.50 0 0 0 166.82,825.32Z" fill="url(#g2p)"/>
<path d="M293.20,1041.60L543.70,1042.91A250.50,250.50 0 0 0 417.31,824.01Z" fill="url(#g2e10)"/>
<path d="M293.20,1041.60L417.31,1259.19A250.50,250.50 0 0 0 543.70,1040.29Z" fill="url(#g2e15)"/>
<path d="M293.20,1041.60L166.82,1257.88A250.50,250.50 0 0 0 419.58,1257.88Z" fill="url(#g2e25)"/>
<path d="M293.20,1041.60L42.70,1040.29A250.50,250.50 0 0 0 169.09,1259.19Z" fill="url(#g2e50)"/>
<path d="M293.20,1041.60L169.09,824.01A250.50,250.50 0 0 0 42.70,1042.91Z" fill="url(#g2e100)"/>
<path d="M293.20,1041.60L180.26,818.01A250.50,250.50 0 0 0 167.95,824.66Z" fill="url(#g2e100)" opacity="0.28"/>
<path d="M293.20,1041.60L175.98,820.22A250.50,250.50 0 0 0 167.95,824.66Z" fill="url(#g2e100)" opacity="0.35"/>
<path d="M293.20,1041.60L172.14,822.30A250.50,250.50 0 0 0 167.95,824.66Z" fill="url(#g2e100)" opacity="0.5"/>
<g fill="none" stroke="#0a0d00" stroke-width="2.7"><circle cx="293.2" cy="1041.6" r="33.40"/><circle cx="293.2" cy="1041.6" r="66.80"/><circle cx="293.2" cy="1041.6" r="100.20"/><circle cx="293.2" cy="1041.6" r="133.60"/><circle cx="293.2" cy="1041.6" r="167.00"/><circle cx="293.2" cy="1041.6" r="200.40"/><circle cx="293.2" cy="1041.6" r="233.80"/><circle cx="293.2" cy="1041.6" r="250.50"/><line x1="42.80" y1="1042.90" x2="543.80" y2="1042.90"/><line x1="168.05" y1="1259.84" x2="418.55" y2="825.96"/><line x1="418.55" y1="1259.84" x2="168.05" y2="825.96"/></g>
<text x="334.5" y="1022.0" class="rl">2</text>
<text x="365.3" y="1009.2" class="rl">4</text>
<text x="396.2" y="996.4" class="rl">6</text>
<text x="427.0" y="983.7" class="rl">8</text>
<text x="464.2" y="970.9" class="rl">10</text>
<text x="494.8" y="958.1" class="rl">12</text>
<text x="526.1" y="945.3" class="rl">14</text>
<text x="233.3" y="776.1" class="sl" textLength="101.6" lengthAdjust="spacingAndGlyphs">Pristine</text>
<text x="10.9" y="866.3" class="sl">100 eV</text>
<text x="491.1" y="866.3" class="sl">10 eV</text>
<text x="11.6" y="1228.2" class="sl">50 eV</text>
<text x="491.8" y="1228.2" class="sl">15 eV</text>
<text x="245.8" y="1328.8" class="sl">25 eV</text>
<text x="109.5" y="711.2" class="tt" textLength="366" lengthAdjust="spacingAndGlyphs">20CaO 20Al<tspan dy="4.5" font-size="24.5">2</tspan><tspan dy="-4.5">O</tspan><tspan dy="4.5" font-size="24.5">3</tspan><tspan dy="-4.5"> 60SiO</tspan><tspan dy="4.5" font-size="24.5">2</tspan></text></g>
<g><path d="M979.40,1041.60L1105.78,825.32A250.50,250.50 0 0 0 853.02,825.32Z" fill="url(#g3p)"/>
<path d="M979.40,1041.60L1229.90,1042.91A250.50,250.50 0 0 0 1103.51,824.01Z" fill="url(#g3e10)"/>
<path d="M979.40,1041.60L1103.51,1259.19A250.50,250.50 0 0 0 1229.90,1040.29Z" fill="url(#g3e15)"/>
<path d="M979.40,1041.60L853.02,1257.88A250.50,250.50 0 0 0 1105.78,1257.88Z" fill="url(#g3e25)"/>
<path d="M979.40,1041.60L728.90,1040.29A250.50,250.50 0 0 0 855.29,1259.19Z" fill="url(#g3e50)"/>
<path d="M979.40,1041.60L855.29,824.01A250.50,250.50 0 0 0 728.90,1042.91Z" fill="url(#g3e100)"/>
<path d="M979.40,1041.60L866.46,818.01A250.50,250.50 0 0 0 854.15,824.66Z" fill="url(#g3e100)" opacity="0.28"/>
<path d="M979.40,1041.60L862.18,820.22A250.50,250.50 0 0 0 854.15,824.66Z" fill="url(#g3e100)" opacity="0.35"/>
<path d="M979.40,1041.60L858.34,822.30A250.50,250.50 0 0 0 854.15,824.66Z" fill="url(#g3e100)" opacity="0.5"/>
<g fill="none" stroke="#0a0d00" stroke-width="2.7"><circle cx="979.4" cy="1041.6" r="33.40"/><circle cx="979.4" cy="1041.6" r="66.80"/><circle cx="979.4" cy="1041.6" r="100.20"/><circle cx="979.4" cy="1041.6" r="133.60"/><circle cx="979.4" cy="1041.6" r="167.00"/><circle cx="979.4" cy="1041.6" r="200.40"/><circle cx="979.4" cy="1041.6" r="233.80"/><circle cx="979.4" cy="1041.6" r="250.50"/><line x1="729.00" y1="1042.90" x2="1230.00" y2="1042.90"/><line x1="854.25" y1="1259.84" x2="1104.75" y2="825.96"/><line x1="1104.75" y1="1259.84" x2="854.25" y2="825.96"/></g>
<text x="1020.7" y="1022.0" class="rl">2</text>
<text x="1051.5" y="1009.2" class="rl">4</text>
<text x="1082.4" y="996.4" class="rl">6</text>
<text x="1113.2" y="983.7" class="rl">8</text>
<text x="1150.4" y="970.9" class="rl">10</text>
<text x="1181.0" y="958.1" class="rl">12</text>
<text x="1212.3" y="945.3" class="rl">14</text>
<text x="912.3" y="776.1" class="sl" textLength="101.6" lengthAdjust="spacingAndGlyphs">Pristine</text>
<text x="689.9" y="866.3" class="sl">100 eV</text>
<text x="1170.1" y="866.3" class="sl">10 eV</text>
<text x="689.9" y="1228.2" class="sl">50 eV</text>
<text x="1170.1" y="1228.2" class="sl">15 eV</text>
<text x="924.1" y="1328.8" class="sl">25 eV</text>
<text x="797" y="711.2" class="tt" textLength="366" lengthAdjust="spacingAndGlyphs">25CaO 25Al<tspan dy="4.5" font-size="24.5">2</tspan><tspan dy="-4.5">O</tspan><tspan dy="4.5" font-size="24.5">3</tspan><tspan dy="-4.5"> 50SiO</tspan><tspan dy="4.5" font-size="24.5">2</tspan></text></g>
<g><rect x="1302" y="168" width="68" height="975" fill="url(#cb)" stroke="#0d0a14" stroke-width="2.2"/>
<line x1="1371" y1="333.4" x2="1380" y2="333.4" stroke="#111" stroke-width="2.2"/>
<text x="1383.6" y="342.0" class="ct">3.0</text>
<line x1="1371" y1="817.6" x2="1380" y2="817.6" stroke="#111" stroke-width="2.2"/>
<text x="1383.6" y="826.2" class="ct">2.5</text>
<line x1="1371" y1="1036.4" x2="1380" y2="1036.4" stroke="#111" stroke-width="2.2"/>
<text x="1383.6" y="1045.0" class="ct">2.0</text>
<line x1="1371" y1="1118.2" x2="1380" y2="1118.2" stroke="#111" stroke-width="2.2"/>
<text x="1383.6" y="1126.8" class="ct">1.5</text>
<line x1="1371" y1="1141.7" x2="1380" y2="1141.7" stroke="#111" stroke-width="5"/>
<text x="1383.6" y="1150.3" class="ct">0.0</text>
<text transform="translate(1470.2,761) rotate(-90)" class="cl" textLength="209.5" lengthAdjust="spacingAndGlyphs">Density [g/cm<tspan dy="-9.5" font-size="18.2">3</tspan><tspan dy="9.5">]</tspan></text></g>
</svg>
</body></html>
